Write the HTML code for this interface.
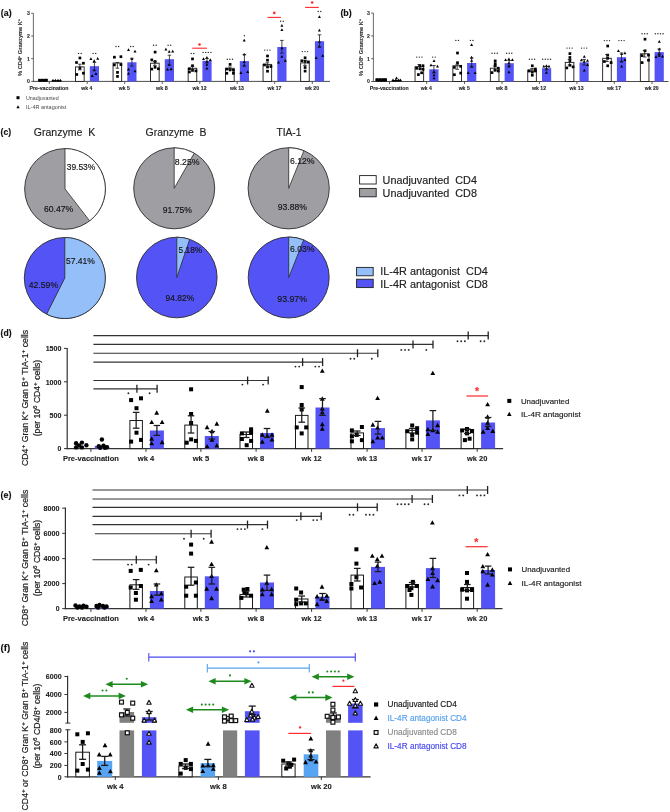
<!DOCTYPE html>
<html><head><meta charset="utf-8"><title>Figure</title>
<style>html,body{margin:0;padding:0;background:#fff;width:670px;height:812px;overflow:hidden}svg{display:block;will-change:transform}</style>
</head><body>
<svg width="670" height="812" viewBox="0 0 670 812" font-family='"Liberation Sans", sans-serif'>
<line x1="33.4" y1="13.3" x2="33.4" y2="81.9" stroke="#5a5a5a" stroke-width="0.9"/>
<line x1="33" y1="81.4" x2="330" y2="81.4" stroke="#3a3a3a" stroke-width="0.9"/>
<line x1="31.2" y1="81.4" x2="33.4" y2="81.4" stroke="#3a3a3a" stroke-width="0.8"/>
<text x="30" y="83.3" font-size="5.2" text-anchor="end" font-weight="bold" fill="#333" stroke="#333" stroke-width="0.12">0</text>
<line x1="31.2" y1="58.7" x2="33.4" y2="58.7" stroke="#3a3a3a" stroke-width="0.8"/>
<text x="30" y="60.6" font-size="5.2" text-anchor="end" font-weight="bold" fill="#333" stroke="#333" stroke-width="0.12">1</text>
<line x1="31.2" y1="36" x2="33.4" y2="36" stroke="#3a3a3a" stroke-width="0.8"/>
<text x="30" y="37.9" font-size="5.2" text-anchor="end" font-weight="bold" fill="#333" stroke="#333" stroke-width="0.12">2</text>
<line x1="31.2" y1="13.3" x2="33.4" y2="13.3" stroke="#3a3a3a" stroke-width="0.8"/>
<text x="30" y="15.2" font-size="5.2" text-anchor="end" font-weight="bold" fill="#333" stroke="#333" stroke-width="0.12">3</text>
<line x1="49.3" y1="81.4" x2="49.3" y2="84" stroke="#3a3a3a" stroke-width="0.8"/>
<text x="49" y="89.9" font-size="5.6" text-anchor="middle" font-weight="bold" fill="#262626" stroke="#262626" stroke-width="0.12" textLength="38.8" lengthAdjust="spacingAndGlyphs">Pre-vaccination</text>
<line x1="87.2" y1="81.4" x2="87.2" y2="84" stroke="#3a3a3a" stroke-width="0.8"/>
<text x="86.9" y="89.9" font-size="5.6" text-anchor="middle" font-weight="bold" fill="#262626" stroke="#262626" stroke-width="0.12" textLength="11.1" lengthAdjust="spacingAndGlyphs">wk 4</text>
<line x1="124.7" y1="81.4" x2="124.7" y2="84" stroke="#3a3a3a" stroke-width="0.8"/>
<text x="124.4" y="89.9" font-size="5.6" text-anchor="middle" font-weight="bold" fill="#262626" stroke="#262626" stroke-width="0.12" textLength="11.1" lengthAdjust="spacingAndGlyphs">wk 5</text>
<line x1="162.2" y1="81.4" x2="162.2" y2="84" stroke="#3a3a3a" stroke-width="0.8"/>
<text x="161.9" y="89.9" font-size="5.6" text-anchor="middle" font-weight="bold" fill="#262626" stroke="#262626" stroke-width="0.12" textLength="11.6" lengthAdjust="spacingAndGlyphs">wk 8</text>
<line x1="199.8" y1="81.4" x2="199.8" y2="84" stroke="#3a3a3a" stroke-width="0.8"/>
<text x="199.5" y="89.9" font-size="5.6" text-anchor="middle" font-weight="bold" fill="#262626" stroke="#262626" stroke-width="0.12" textLength="14" lengthAdjust="spacingAndGlyphs">wk 12</text>
<line x1="237.2" y1="81.4" x2="237.2" y2="84" stroke="#3a3a3a" stroke-width="0.8"/>
<text x="236.9" y="89.9" font-size="5.6" text-anchor="middle" font-weight="bold" fill="#262626" stroke="#262626" stroke-width="0.12" textLength="14" lengthAdjust="spacingAndGlyphs">wk 13</text>
<line x1="274.7" y1="81.4" x2="274.7" y2="84" stroke="#3a3a3a" stroke-width="0.8"/>
<text x="274.4" y="89.9" font-size="5.6" text-anchor="middle" font-weight="bold" fill="#262626" stroke="#262626" stroke-width="0.12" textLength="14" lengthAdjust="spacingAndGlyphs">wk 17</text>
<line x1="312.3" y1="81.4" x2="312.3" y2="84" stroke="#3a3a3a" stroke-width="0.8"/>
<text x="312" y="89.9" font-size="5.6" text-anchor="middle" font-weight="bold" fill="#262626" stroke="#262626" stroke-width="0.12" textLength="14" lengthAdjust="spacingAndGlyphs">wk 20</text>
<rect x="75.55" y="66.9" width="8.6" height="14.5" fill="#fff" stroke="#1a1a1a" stroke-width="0.9"/>
<rect x="89.8" y="66.2" width="9.2" height="15.2" fill="#5454f6"/>
<rect x="78.55" y="56.65" width="2.7" height="2.7" fill="#000"/>
<rect x="75.15" y="61.15" width="2.7" height="2.7" fill="#000"/>
<rect x="82.05" y="61.85" width="2.7" height="2.7" fill="#000"/>
<rect x="78.55" y="66.85" width="2.7" height="2.7" fill="#000"/>
<rect x="75.45" y="73.15" width="2.7" height="2.7" fill="#000"/>
<rect x="82.05" y="71.85" width="2.7" height="2.7" fill="#000"/>
<polygon points="90.9,57.14 89.4,59.9 92.4,59.9" fill="#000"/>
<polygon points="97.7,56.94 96.2,59.7 99.2,59.7" fill="#000"/>
<polygon points="94.2,59.24 92.7,62 95.7,62" fill="#000"/>
<polygon points="94.2,68.44 92.7,71.2 95.7,71.2" fill="#000"/>
<polygon points="95.9,72.34 94.4,75.1 97.4,75.1" fill="#000"/>
<polygon points="92.2,74.34 90.7,77.1 93.7,77.1" fill="#000"/>
<line x1="79.85" y1="64.2" x2="79.85" y2="69.8" stroke="#1a1a1a" stroke-width="0.8"/>
<line x1="78.05" y1="64.2" x2="81.65" y2="64.2" stroke="#1a1a1a" stroke-width="0.8"/>
<line x1="78.05" y1="69.8" x2="81.65" y2="69.8" stroke="#1a1a1a" stroke-width="0.8"/>
<line x1="94.4" y1="62.5" x2="94.4" y2="70.3" stroke="#1a1a1a" stroke-width="0.8"/>
<line x1="92.6" y1="62.5" x2="96.2" y2="62.5" stroke="#1a1a1a" stroke-width="0.8"/>
<line x1="92.6" y1="70.3" x2="96.2" y2="70.3" stroke="#1a1a1a" stroke-width="0.8"/>
<circle cx="78.55" cy="53.4" r="0.72" fill="#2a2a2a"/>
<circle cx="81.15" cy="53.4" r="0.72" fill="#2a2a2a"/>
<circle cx="93.1" cy="53.4" r="0.72" fill="#2a2a2a"/>
<circle cx="95.7" cy="53.4" r="0.72" fill="#2a2a2a"/>
<rect x="113.05" y="63" width="8.6" height="18.4" fill="#fff" stroke="#1a1a1a" stroke-width="0.9"/>
<rect x="127.3" y="62.3" width="9.2" height="19.1" fill="#5454f6"/>
<rect x="113.05" y="55.85" width="2.7" height="2.7" fill="#000"/>
<rect x="119.55" y="55.35" width="2.7" height="2.7" fill="#000"/>
<rect x="113.05" y="63.55" width="2.7" height="2.7" fill="#000"/>
<rect x="119.55" y="63.25" width="2.7" height="2.7" fill="#000"/>
<rect x="116.15" y="71.05" width="2.7" height="2.7" fill="#000"/>
<rect x="116.15" y="75.05" width="2.7" height="2.7" fill="#000"/>
<polygon points="128.5,48.24 127,51 130,51" fill="#000"/>
<polygon points="135,49.84 133.5,52.6 136.5,52.6" fill="#000"/>
<polygon points="131.9,57.34 130.4,60.1 133.4,60.1" fill="#000"/>
<polygon points="128.5,67.64 127,70.4 130,70.4" fill="#000"/>
<polygon points="135,69.44 133.5,72.2 136.5,72.2" fill="#000"/>
<polygon points="128.5,71.94 127,74.7 130,74.7" fill="#000"/>
<line x1="117.35" y1="62.5" x2="117.35" y2="68.2" stroke="#1a1a1a" stroke-width="0.8"/>
<line x1="115.55" y1="62.5" x2="119.15" y2="62.5" stroke="#1a1a1a" stroke-width="0.8"/>
<line x1="115.55" y1="68.2" x2="119.15" y2="68.2" stroke="#1a1a1a" stroke-width="0.8"/>
<line x1="131.9" y1="58.3" x2="131.9" y2="66.1" stroke="#1a1a1a" stroke-width="0.8"/>
<line x1="130.1" y1="58.3" x2="133.7" y2="58.3" stroke="#1a1a1a" stroke-width="0.8"/>
<line x1="130.1" y1="66.1" x2="133.7" y2="66.1" stroke="#1a1a1a" stroke-width="0.8"/>
<circle cx="116.05" cy="46.5" r="0.72" fill="#2a2a2a"/>
<circle cx="118.65" cy="46.5" r="0.72" fill="#2a2a2a"/>
<circle cx="130.6" cy="46.5" r="0.72" fill="#2a2a2a"/>
<circle cx="133.2" cy="46.5" r="0.72" fill="#2a2a2a"/>
<rect x="150.55" y="63.2" width="8.6" height="18.2" fill="#fff" stroke="#1a1a1a" stroke-width="0.9"/>
<rect x="164.8" y="59.2" width="9.2" height="22.2" fill="#5454f6"/>
<rect x="153.75" y="50.75" width="2.7" height="2.7" fill="#000"/>
<rect x="150.45" y="58.55" width="2.7" height="2.7" fill="#000"/>
<rect x="153.75" y="60.15" width="2.7" height="2.7" fill="#000"/>
<rect x="153.75" y="65.95" width="2.7" height="2.7" fill="#000"/>
<rect x="150.45" y="67.75" width="2.7" height="2.7" fill="#000"/>
<rect x="157.05" y="67.45" width="2.7" height="2.7" fill="#000"/>
<polygon points="165.9,47.64 164.4,50.4 167.4,50.4" fill="#000"/>
<polygon points="169.2,49.94 167.7,52.7 170.7,52.7" fill="#000"/>
<polygon points="172.7,49.74 171.2,52.5 174.2,52.5" fill="#000"/>
<polygon points="169.2,62.94 167.7,65.7 170.7,65.7" fill="#000"/>
<polygon points="167.5,67.64 166,70.4 169,70.4" fill="#000"/>
<polygon points="171.1,67.44 169.6,70.2 172.6,70.2" fill="#000"/>
<line x1="154.85" y1="61.5" x2="154.85" y2="65.4" stroke="#1a1a1a" stroke-width="0.8"/>
<line x1="153.05" y1="61.5" x2="156.65" y2="61.5" stroke="#1a1a1a" stroke-width="0.8"/>
<line x1="153.05" y1="65.4" x2="156.65" y2="65.4" stroke="#1a1a1a" stroke-width="0.8"/>
<line x1="169.4" y1="55.2" x2="169.4" y2="65.2" stroke="#1a1a1a" stroke-width="0.8"/>
<line x1="167.6" y1="55.2" x2="171.2" y2="55.2" stroke="#1a1a1a" stroke-width="0.8"/>
<line x1="167.6" y1="65.2" x2="171.2" y2="65.2" stroke="#1a1a1a" stroke-width="0.8"/>
<circle cx="153.55" cy="45.3" r="0.72" fill="#2a2a2a"/>
<circle cx="156.15" cy="45.3" r="0.72" fill="#2a2a2a"/>
<circle cx="168.1" cy="45.3" r="0.72" fill="#2a2a2a"/>
<circle cx="170.7" cy="45.3" r="0.72" fill="#2a2a2a"/>
<rect x="188.15" y="68.3" width="8.6" height="13.1" fill="#fff" stroke="#1a1a1a" stroke-width="0.9"/>
<rect x="202.4" y="60.8" width="9.2" height="20.6" fill="#5454f6"/>
<rect x="191.15" y="57.55" width="2.7" height="2.7" fill="#000"/>
<rect x="191.15" y="64.35" width="2.7" height="2.7" fill="#000"/>
<rect x="188.05" y="67.45" width="2.7" height="2.7" fill="#000"/>
<rect x="188.05" y="70.65" width="2.7" height="2.7" fill="#000"/>
<rect x="194.55" y="69.55" width="2.7" height="2.7" fill="#000"/>
<rect x="191.15" y="69.05" width="2.7" height="2.7" fill="#000"/>
<polygon points="203.5,57.24 202,60 205,60" fill="#000"/>
<polygon points="206.9,55.94 205.4,58.7 208.4,58.7" fill="#000"/>
<polygon points="210.3,58.24 208.8,61 211.8,61" fill="#000"/>
<polygon points="206.9,60.14 205.4,62.9 208.4,62.9" fill="#000"/>
<polygon points="206.9,62.94 205.4,65.7 208.4,65.7" fill="#000"/>
<polygon points="206.9,66.84 205.4,69.6 208.4,69.6" fill="#000"/>
<line x1="192.45" y1="66.5" x2="192.45" y2="70" stroke="#1a1a1a" stroke-width="0.8"/>
<line x1="190.65" y1="66.5" x2="194.25" y2="66.5" stroke="#1a1a1a" stroke-width="0.8"/>
<line x1="190.65" y1="70" x2="194.25" y2="70" stroke="#1a1a1a" stroke-width="0.8"/>
<line x1="207" y1="58.5" x2="207" y2="63" stroke="#1a1a1a" stroke-width="0.8"/>
<line x1="205.2" y1="58.5" x2="208.8" y2="58.5" stroke="#1a1a1a" stroke-width="0.8"/>
<line x1="205.2" y1="63" x2="208.8" y2="63" stroke="#1a1a1a" stroke-width="0.8"/>
<circle cx="191.15" cy="53.5" r="0.72" fill="#2a2a2a"/>
<circle cx="193.75" cy="53.5" r="0.72" fill="#2a2a2a"/>
<circle cx="203.1" cy="52.4" r="0.72" fill="#2a2a2a"/>
<circle cx="205.7" cy="52.4" r="0.72" fill="#2a2a2a"/>
<circle cx="208.3" cy="52.4" r="0.72" fill="#2a2a2a"/>
<circle cx="210.9" cy="52.4" r="0.72" fill="#2a2a2a"/>
<rect x="225.55" y="68.3" width="8.6" height="13.1" fill="#fff" stroke="#1a1a1a" stroke-width="0.9"/>
<rect x="239.8" y="61.1" width="9.2" height="20.3" fill="#5454f6"/>
<rect x="228.75" y="63.05" width="2.7" height="2.7" fill="#000"/>
<rect x="225.45" y="67.75" width="2.7" height="2.7" fill="#000"/>
<rect x="228.75" y="68.55" width="2.7" height="2.7" fill="#000"/>
<rect x="232.05" y="68.85" width="2.7" height="2.7" fill="#000"/>
<rect x="225.45" y="71.95" width="2.7" height="2.7" fill="#000"/>
<rect x="232.05" y="71.95" width="2.7" height="2.7" fill="#000"/>
<polygon points="244.2,38.74 242.7,41.5 245.7,41.5" fill="#000"/>
<polygon points="244.2,52.84 242.7,55.6 245.7,55.6" fill="#000"/>
<polygon points="244.2,60.14 242.7,62.9 245.7,62.9" fill="#000"/>
<polygon points="244.2,63.74 242.7,66.5 245.7,66.5" fill="#000"/>
<polygon points="240.9,71.14 239.4,73.9 242.4,73.9" fill="#000"/>
<polygon points="247.7,70.34 246.2,73.1 249.2,73.1" fill="#000"/>
<line x1="229.85" y1="67" x2="229.85" y2="69.6" stroke="#1a1a1a" stroke-width="0.8"/>
<line x1="228.05" y1="67" x2="231.65" y2="67" stroke="#1a1a1a" stroke-width="0.8"/>
<line x1="228.05" y1="69.6" x2="231.65" y2="69.6" stroke="#1a1a1a" stroke-width="0.8"/>
<line x1="244.4" y1="54.5" x2="244.4" y2="66" stroke="#1a1a1a" stroke-width="0.8"/>
<line x1="242.6" y1="54.5" x2="246.2" y2="54.5" stroke="#1a1a1a" stroke-width="0.8"/>
<line x1="242.6" y1="66" x2="246.2" y2="66" stroke="#1a1a1a" stroke-width="0.8"/>
<circle cx="227.25" cy="59.2" r="0.72" fill="#2a2a2a"/>
<circle cx="229.85" cy="59.2" r="0.72" fill="#2a2a2a"/>
<circle cx="232.45" cy="59.2" r="0.72" fill="#2a2a2a"/>
<circle cx="244.4" cy="35.7" r="0.72" fill="#2a2a2a"/>
<rect x="263.05" y="64.4" width="8.6" height="17" fill="#fff" stroke="#1a1a1a" stroke-width="0.9"/>
<rect x="277.3" y="47" width="9.2" height="34.4" fill="#5454f6"/>
<rect x="266.15" y="54.65" width="2.7" height="2.7" fill="#000"/>
<rect x="266.15" y="58.85" width="2.7" height="2.7" fill="#000"/>
<rect x="263.05" y="63.55" width="2.7" height="2.7" fill="#000"/>
<rect x="269.55" y="65.15" width="2.7" height="2.7" fill="#000"/>
<rect x="266.15" y="65.65" width="2.7" height="2.7" fill="#000"/>
<rect x="266.15" y="69.85" width="2.7" height="2.7" fill="#000"/>
<polygon points="281.9,24.04 280.4,26.8 283.4,26.8" fill="#000"/>
<polygon points="281.9,28.24 280.4,31 283.4,31" fill="#000"/>
<polygon points="281.9,46.54 280.4,49.3 283.4,49.3" fill="#000"/>
<polygon points="281.9,54.94 280.4,57.7 283.4,57.7" fill="#000"/>
<polygon points="278.5,60.64 277,63.4 280,63.4" fill="#000"/>
<polygon points="285.3,59.04 283.8,61.8 286.8,61.8" fill="#000"/>
<line x1="267.35" y1="62.8" x2="267.35" y2="66" stroke="#1a1a1a" stroke-width="0.8"/>
<line x1="265.55" y1="62.8" x2="269.15" y2="62.8" stroke="#1a1a1a" stroke-width="0.8"/>
<line x1="265.55" y1="66" x2="269.15" y2="66" stroke="#1a1a1a" stroke-width="0.8"/>
<line x1="281.9" y1="40.4" x2="281.9" y2="53.2" stroke="#1a1a1a" stroke-width="0.8"/>
<line x1="280.1" y1="40.4" x2="283.7" y2="40.4" stroke="#1a1a1a" stroke-width="0.8"/>
<line x1="280.1" y1="53.2" x2="283.7" y2="53.2" stroke="#1a1a1a" stroke-width="0.8"/>
<circle cx="264.75" cy="50.1" r="0.72" fill="#2a2a2a"/>
<circle cx="267.35" cy="50.1" r="0.72" fill="#2a2a2a"/>
<circle cx="269.95" cy="50.1" r="0.72" fill="#2a2a2a"/>
<circle cx="280.6" cy="21.3" r="0.72" fill="#2a2a2a"/>
<circle cx="283.2" cy="21.3" r="0.72" fill="#2a2a2a"/>
<rect x="300.65" y="62.9" width="8.6" height="18.5" fill="#fff" stroke="#1a1a1a" stroke-width="0.9"/>
<rect x="314.9" y="41.2" width="9.2" height="40.2" fill="#5454f6"/>
<rect x="303.75" y="56.45" width="2.7" height="2.7" fill="#000"/>
<rect x="300.45" y="59.45" width="2.7" height="2.7" fill="#000"/>
<rect x="303.75" y="59.95" width="2.7" height="2.7" fill="#000"/>
<rect x="307.05" y="60.55" width="2.7" height="2.7" fill="#000"/>
<rect x="303.75" y="66.15" width="2.7" height="2.7" fill="#000"/>
<rect x="303.75" y="69.75" width="2.7" height="2.7" fill="#000"/>
<polygon points="319.4,15.24 317.9,18 320.9,18" fill="#000"/>
<polygon points="319.4,28.84 317.9,31.6 320.9,31.6" fill="#000"/>
<polygon points="319.4,40.04 317.9,42.8 320.9,42.8" fill="#000"/>
<polygon points="319.4,44.84 317.9,47.6 320.9,47.6" fill="#000"/>
<polygon points="316.1,56.14 314.6,58.9 317.6,58.9" fill="#000"/>
<polygon points="322.7,54.04 321.2,56.8 324.2,56.8" fill="#000"/>
<line x1="304.95" y1="60.3" x2="304.95" y2="65.4" stroke="#1a1a1a" stroke-width="0.8"/>
<line x1="303.15" y1="60.3" x2="306.75" y2="60.3" stroke="#1a1a1a" stroke-width="0.8"/>
<line x1="303.15" y1="65.4" x2="306.75" y2="65.4" stroke="#1a1a1a" stroke-width="0.8"/>
<line x1="319.5" y1="34.8" x2="319.5" y2="47.2" stroke="#1a1a1a" stroke-width="0.8"/>
<line x1="317.7" y1="34.8" x2="321.3" y2="34.8" stroke="#1a1a1a" stroke-width="0.8"/>
<line x1="317.7" y1="47.2" x2="321.3" y2="47.2" stroke="#1a1a1a" stroke-width="0.8"/>
<circle cx="302.35" cy="51.6" r="0.72" fill="#2a2a2a"/>
<circle cx="304.95" cy="51.6" r="0.72" fill="#2a2a2a"/>
<circle cx="307.55" cy="51.6" r="0.72" fill="#2a2a2a"/>
<circle cx="318.2" cy="11.5" r="0.72" fill="#2a2a2a"/>
<circle cx="320.8" cy="11.5" r="0.72" fill="#2a2a2a"/>
<text x="22.2" y="47.4" font-size="5.9" text-anchor="middle" font-weight="bold" fill="#333" stroke="#333" stroke-width="0.12" textLength="57" lengthAdjust="spacingAndGlyphs" transform="rotate(-90 22.2 47.4)">% CD4<tspan dy="-1.8" font-size="3.8">+</tspan><tspan dy="1.8"> </tspan> Granzyme K<tspan dy="-1.8" font-size="3.8">+</tspan></text>
<text x="0.8" y="16.4" font-size="9" font-weight="bold" fill="#111" stroke="#111" stroke-width="0.12" textLength="10.8" lengthAdjust="spacingAndGlyphs">(a)</text>
<rect x="38.4" y="79.2" width="9" height="2.6" fill="#000"/>
<rect x="38.2" y="78.8" width="2.4" height="2.4" fill="#000"/>
<rect x="41" y="78.8" width="2.4" height="2.4" fill="#000"/>
<rect x="43.6" y="78.8" width="2.4" height="2.4" fill="#000"/>
<rect x="45.4" y="78.8" width="2.4" height="2.4" fill="#000"/>
<polygon points="53,78.75 51.6,81.33 54.4,81.33" fill="#000"/>
<polygon points="55.5,78.75 54.1,81.33 56.9,81.33" fill="#000"/>
<polygon points="58,78.75 56.6,81.33 59.4,81.33" fill="#000"/>
<polygon points="60.3,78.75 58.9,81.33 61.7,81.33" fill="#000"/>
<rect x="51.8" y="80.3" width="9.6" height="1.3" fill="#000"/>
<line x1="192.2" y1="48.2" x2="206.9" y2="48.2" stroke="#ff2a2a" stroke-width="1.1"/>
<circle cx="199.5" cy="44.5" r="1.3" fill="#ff2a2a"/>
<line x1="267.5" y1="17.4" x2="280.9" y2="17.4" stroke="#ff2a2a" stroke-width="1.1"/>
<circle cx="274.3" cy="12.9" r="1.3" fill="#ff2a2a"/>
<line x1="305.1" y1="7.4" x2="318.8" y2="7.4" stroke="#ff2a2a" stroke-width="1.1"/>
<circle cx="312.2" cy="2.5" r="1.3" fill="#ff2a2a"/>
<rect x="16.5" y="96.2" width="3" height="3" fill="#000"/>
<text x="26" y="99.9" font-size="5.7" fill="#4a4a4a" textLength="32.7" lengthAdjust="spacingAndGlyphs">Unadjuvanted</text>
<polygon points="18,105.18 16.35,108.21 19.65,108.21" fill="#000"/>
<text x="26" y="109.1" font-size="5.7" fill="#4a4a4a" textLength="40.3" lengthAdjust="spacingAndGlyphs">IL-4R antagonist</text>
<line x1="373.4" y1="13.1" x2="373.4" y2="82" stroke="#5a5a5a" stroke-width="0.9"/>
<line x1="373" y1="81.5" x2="668.5" y2="81.5" stroke="#3a3a3a" stroke-width="0.9"/>
<line x1="371.2" y1="81.5" x2="373.4" y2="81.5" stroke="#3a3a3a" stroke-width="0.8"/>
<text x="370" y="83.4" font-size="5.2" text-anchor="end" font-weight="bold" fill="#333" stroke="#333" stroke-width="0.12">0</text>
<line x1="371.2" y1="58.7" x2="373.4" y2="58.7" stroke="#3a3a3a" stroke-width="0.8"/>
<text x="370" y="60.6" font-size="5.2" text-anchor="end" font-weight="bold" fill="#333" stroke="#333" stroke-width="0.12">1</text>
<line x1="371.2" y1="35.9" x2="373.4" y2="35.9" stroke="#3a3a3a" stroke-width="0.8"/>
<text x="370" y="37.8" font-size="5.2" text-anchor="end" font-weight="bold" fill="#333" stroke="#333" stroke-width="0.12">2</text>
<line x1="371.2" y1="13.1" x2="373.4" y2="13.1" stroke="#3a3a3a" stroke-width="0.8"/>
<text x="370" y="15" font-size="5.2" text-anchor="end" font-weight="bold" fill="#333" stroke="#333" stroke-width="0.12">3</text>
<line x1="389.5" y1="81.5" x2="389.5" y2="84.1" stroke="#3a3a3a" stroke-width="0.8"/>
<text x="389.2" y="90" font-size="5.6" text-anchor="middle" font-weight="bold" fill="#262626" stroke="#262626" stroke-width="0.12" textLength="38.8" lengthAdjust="spacingAndGlyphs">Pre-vaccination</text>
<line x1="426.7" y1="81.5" x2="426.7" y2="84.1" stroke="#3a3a3a" stroke-width="0.8"/>
<text x="426.4" y="90" font-size="5.6" text-anchor="middle" font-weight="bold" fill="#262626" stroke="#262626" stroke-width="0.12" textLength="11.1" lengthAdjust="spacingAndGlyphs">wk 4</text>
<line x1="464.5" y1="81.5" x2="464.5" y2="84.1" stroke="#3a3a3a" stroke-width="0.8"/>
<text x="464.2" y="90" font-size="5.6" text-anchor="middle" font-weight="bold" fill="#262626" stroke="#262626" stroke-width="0.12" textLength="11.1" lengthAdjust="spacingAndGlyphs">wk 5</text>
<line x1="502" y1="81.5" x2="502" y2="84.1" stroke="#3a3a3a" stroke-width="0.8"/>
<text x="501.7" y="90" font-size="5.6" text-anchor="middle" font-weight="bold" fill="#262626" stroke="#262626" stroke-width="0.12" textLength="11.6" lengthAdjust="spacingAndGlyphs">wk 8</text>
<line x1="539.4" y1="81.5" x2="539.4" y2="84.1" stroke="#3a3a3a" stroke-width="0.8"/>
<text x="539.1" y="90" font-size="5.6" text-anchor="middle" font-weight="bold" fill="#262626" stroke="#262626" stroke-width="0.12" textLength="14" lengthAdjust="spacingAndGlyphs">wk 12</text>
<line x1="576.9" y1="81.5" x2="576.9" y2="84.1" stroke="#3a3a3a" stroke-width="0.8"/>
<text x="576.6" y="90" font-size="5.6" text-anchor="middle" font-weight="bold" fill="#262626" stroke="#262626" stroke-width="0.12" textLength="14" lengthAdjust="spacingAndGlyphs">wk 13</text>
<line x1="614.3" y1="81.5" x2="614.3" y2="84.1" stroke="#3a3a3a" stroke-width="0.8"/>
<text x="614" y="90" font-size="5.6" text-anchor="middle" font-weight="bold" fill="#262626" stroke="#262626" stroke-width="0.12" textLength="14" lengthAdjust="spacingAndGlyphs">wk 17</text>
<line x1="652" y1="81.5" x2="652" y2="84.1" stroke="#3a3a3a" stroke-width="0.8"/>
<text x="651.7" y="90" font-size="5.6" text-anchor="middle" font-weight="bold" fill="#262626" stroke="#262626" stroke-width="0.12" textLength="14" lengthAdjust="spacingAndGlyphs">wk 20</text>
<rect x="415.05" y="66.7" width="8.6" height="14.8" fill="#fff" stroke="#1a1a1a" stroke-width="0.9"/>
<rect x="429.3" y="69.3" width="9.2" height="12.2" fill="#5454f6"/>
<rect x="415.25" y="66.95" width="2.7" height="2.7" fill="#000"/>
<rect x="418.35" y="64.35" width="2.7" height="2.7" fill="#000"/>
<rect x="421.65" y="64.35" width="2.7" height="2.7" fill="#000"/>
<rect x="418.85" y="67.45" width="2.7" height="2.7" fill="#000"/>
<rect x="421.65" y="67.95" width="2.7" height="2.7" fill="#000"/>
<rect x="420.25" y="71.45" width="2.7" height="2.7" fill="#000"/>
<rect x="417.05" y="73.25" width="2.7" height="2.7" fill="#000"/>
<polygon points="434,59.34 432.5,62.1 435.5,62.1" fill="#000"/>
<polygon points="431,63.44 429.5,66.2 432.5,66.2" fill="#000"/>
<polygon points="437.5,64.84 436,67.6 439,67.6" fill="#000"/>
<polygon points="434,70.24 432.5,73 435.5,73" fill="#000"/>
<polygon points="434,73.44 432.5,76.2 435.5,76.2" fill="#000"/>
<polygon points="434,76.54 432.5,79.3 435.5,79.3" fill="#000"/>
<line x1="419.35" y1="64.5" x2="419.35" y2="69" stroke="#1a1a1a" stroke-width="0.8"/>
<line x1="417.55" y1="64.5" x2="421.15" y2="64.5" stroke="#1a1a1a" stroke-width="0.8"/>
<line x1="417.55" y1="69" x2="421.15" y2="69" stroke="#1a1a1a" stroke-width="0.8"/>
<line x1="433.9" y1="65.5" x2="433.9" y2="73" stroke="#1a1a1a" stroke-width="0.8"/>
<line x1="432.1" y1="65.5" x2="435.7" y2="65.5" stroke="#1a1a1a" stroke-width="0.8"/>
<line x1="432.1" y1="73" x2="435.7" y2="73" stroke="#1a1a1a" stroke-width="0.8"/>
<circle cx="416.75" cy="57.1" r="0.72" fill="#2a2a2a"/>
<circle cx="419.35" cy="57.1" r="0.72" fill="#2a2a2a"/>
<circle cx="421.95" cy="57.1" r="0.72" fill="#2a2a2a"/>
<circle cx="432.6" cy="57.1" r="0.72" fill="#2a2a2a"/>
<circle cx="435.2" cy="57.1" r="0.72" fill="#2a2a2a"/>
<rect x="452.85" y="65.8" width="8.6" height="15.7" fill="#fff" stroke="#1a1a1a" stroke-width="0.9"/>
<rect x="467.1" y="63" width="9.2" height="18.5" fill="#5454f6"/>
<rect x="456.15" y="51.65" width="2.7" height="2.7" fill="#000"/>
<rect x="456.15" y="61.35" width="2.7" height="2.7" fill="#000"/>
<rect x="453.05" y="66.05" width="2.7" height="2.7" fill="#000"/>
<rect x="459.35" y="64.95" width="2.7" height="2.7" fill="#000"/>
<rect x="453.05" y="73.35" width="2.7" height="2.7" fill="#000"/>
<rect x="459.35" y="71.75" width="2.7" height="2.7" fill="#000"/>
<polygon points="471.6,43.24 470.1,46 473.1,46" fill="#000"/>
<polygon points="471.6,55.84 470.1,58.6 473.1,58.6" fill="#000"/>
<polygon points="471.6,58.94 470.1,61.7 473.1,61.7" fill="#000"/>
<polygon points="471.6,64.64 470.1,67.4 473.1,67.4" fill="#000"/>
<polygon points="468.2,71.14 466.7,73.9 469.7,73.9" fill="#000"/>
<polygon points="475.1,71.14 473.6,73.9 476.6,73.9" fill="#000"/>
<line x1="457.15" y1="64.3" x2="457.15" y2="69.3" stroke="#1a1a1a" stroke-width="0.8"/>
<line x1="455.35" y1="64.3" x2="458.95" y2="64.3" stroke="#1a1a1a" stroke-width="0.8"/>
<line x1="455.35" y1="69.3" x2="458.95" y2="69.3" stroke="#1a1a1a" stroke-width="0.8"/>
<line x1="471.7" y1="58" x2="471.7" y2="66.9" stroke="#1a1a1a" stroke-width="0.8"/>
<line x1="469.9" y1="58" x2="473.5" y2="58" stroke="#1a1a1a" stroke-width="0.8"/>
<line x1="469.9" y1="66.9" x2="473.5" y2="66.9" stroke="#1a1a1a" stroke-width="0.8"/>
<circle cx="455.85" cy="40.4" r="0.72" fill="#2a2a2a"/>
<circle cx="458.45" cy="40.4" r="0.72" fill="#2a2a2a"/>
<circle cx="470.4" cy="40.4" r="0.72" fill="#2a2a2a"/>
<circle cx="473" cy="40.4" r="0.72" fill="#2a2a2a"/>
<rect x="490.35" y="68.2" width="8.6" height="13.3" fill="#fff" stroke="#1a1a1a" stroke-width="0.9"/>
<rect x="504.6" y="63.2" width="9.2" height="18.3" fill="#5454f6"/>
<rect x="493.85" y="59.55" width="2.7" height="2.7" fill="#000"/>
<rect x="493.85" y="62.35" width="2.7" height="2.7" fill="#000"/>
<rect x="493.85" y="64.45" width="2.7" height="2.7" fill="#000"/>
<rect x="496.95" y="66.85" width="2.7" height="2.7" fill="#000"/>
<rect x="493.85" y="68.95" width="2.7" height="2.7" fill="#000"/>
<rect x="490.65" y="71.25" width="2.7" height="2.7" fill="#000"/>
<rect x="496.95" y="69.65" width="2.7" height="2.7" fill="#000"/>
<polygon points="505.6,58.24 504.1,61 507.1,61" fill="#000"/>
<polygon points="508.9,57.54 507.4,60.3 510.4,60.3" fill="#000"/>
<polygon points="512.4,58.24 510.9,61 513.9,61" fill="#000"/>
<polygon points="508.9,61.54 507.4,64.3 510.4,64.3" fill="#000"/>
<polygon points="508.9,64.64 507.4,67.4 510.4,67.4" fill="#000"/>
<polygon points="508.9,70.44 507.4,73.2 510.4,73.2" fill="#000"/>
<line x1="494.65" y1="66" x2="494.65" y2="70" stroke="#1a1a1a" stroke-width="0.8"/>
<line x1="492.85" y1="66" x2="496.45" y2="66" stroke="#1a1a1a" stroke-width="0.8"/>
<line x1="492.85" y1="70" x2="496.45" y2="70" stroke="#1a1a1a" stroke-width="0.8"/>
<line x1="509.2" y1="60.5" x2="509.2" y2="66" stroke="#1a1a1a" stroke-width="0.8"/>
<line x1="507.4" y1="60.5" x2="511" y2="60.5" stroke="#1a1a1a" stroke-width="0.8"/>
<line x1="507.4" y1="66" x2="511" y2="66" stroke="#1a1a1a" stroke-width="0.8"/>
<circle cx="492.05" cy="53.3" r="0.72" fill="#2a2a2a"/>
<circle cx="494.65" cy="53.3" r="0.72" fill="#2a2a2a"/>
<circle cx="497.25" cy="53.3" r="0.72" fill="#2a2a2a"/>
<circle cx="506.6" cy="53.3" r="0.72" fill="#2a2a2a"/>
<circle cx="509.2" cy="53.3" r="0.72" fill="#2a2a2a"/>
<circle cx="511.8" cy="53.3" r="0.72" fill="#2a2a2a"/>
<rect x="527.75" y="70" width="8.6" height="11.5" fill="#fff" stroke="#1a1a1a" stroke-width="0.9"/>
<rect x="542" y="68.2" width="9.2" height="13.3" fill="#5454f6"/>
<rect x="530.95" y="64.45" width="2.7" height="2.7" fill="#000"/>
<rect x="527.85" y="69.65" width="2.7" height="2.7" fill="#000"/>
<rect x="534.05" y="67.65" width="2.7" height="2.7" fill="#000"/>
<rect x="530.95" y="70.75" width="2.7" height="2.7" fill="#000"/>
<rect x="530.95" y="73.85" width="2.7" height="2.7" fill="#000"/>
<rect x="534.05" y="69.65" width="2.7" height="2.7" fill="#000"/>
<polygon points="543.8,64.64 542.3,67.4 545.3,67.4" fill="#000"/>
<polygon points="546.4,64.14 544.9,66.9 547.9,66.9" fill="#000"/>
<polygon points="549,64.64 547.5,67.4 550.5,67.4" fill="#000"/>
<polygon points="546.4,66.74 544.9,69.5 547.9,69.5" fill="#000"/>
<polygon points="546.4,70.94 544.9,73.7 547.9,73.7" fill="#000"/>
<line x1="532.05" y1="68.5" x2="532.05" y2="71.5" stroke="#1a1a1a" stroke-width="0.8"/>
<line x1="530.25" y1="68.5" x2="533.85" y2="68.5" stroke="#1a1a1a" stroke-width="0.8"/>
<line x1="530.25" y1="71.5" x2="533.85" y2="71.5" stroke="#1a1a1a" stroke-width="0.8"/>
<line x1="546.6" y1="66.5" x2="546.6" y2="70" stroke="#1a1a1a" stroke-width="0.8"/>
<line x1="544.8" y1="66.5" x2="548.4" y2="66.5" stroke="#1a1a1a" stroke-width="0.8"/>
<line x1="544.8" y1="70" x2="548.4" y2="70" stroke="#1a1a1a" stroke-width="0.8"/>
<circle cx="529.45" cy="59.2" r="0.72" fill="#2a2a2a"/>
<circle cx="532.05" cy="59.2" r="0.72" fill="#2a2a2a"/>
<circle cx="534.65" cy="59.2" r="0.72" fill="#2a2a2a"/>
<circle cx="542.7" cy="59.2" r="0.72" fill="#2a2a2a"/>
<circle cx="545.3" cy="59.2" r="0.72" fill="#2a2a2a"/>
<circle cx="547.9" cy="59.2" r="0.72" fill="#2a2a2a"/>
<circle cx="550.5" cy="59.2" r="0.72" fill="#2a2a2a"/>
<rect x="565.25" y="62.4" width="8.6" height="19.1" fill="#fff" stroke="#1a1a1a" stroke-width="0.9"/>
<rect x="579.5" y="62.4" width="9.2" height="19.1" fill="#5454f6"/>
<rect x="568.55" y="52.25" width="2.7" height="2.7" fill="#000"/>
<rect x="568.55" y="56.15" width="2.7" height="2.7" fill="#000"/>
<rect x="568.55" y="59.25" width="2.7" height="2.7" fill="#000"/>
<rect x="568.55" y="63.95" width="2.7" height="2.7" fill="#000"/>
<rect x="565.45" y="66.55" width="2.7" height="2.7" fill="#000"/>
<rect x="571.75" y="65.55" width="2.7" height="2.7" fill="#000"/>
<polygon points="584.3,55.04 582.8,57.8 585.8,57.8" fill="#000"/>
<polygon points="581.4,58.44 579.9,61.2 582.9,61.2" fill="#000"/>
<polygon points="587.5,58.94 586,61.7 589,61.7" fill="#000"/>
<polygon points="584.3,59.94 582.8,62.7 585.8,62.7" fill="#000"/>
<polygon points="587.5,63.14 586,65.9 589,65.9" fill="#000"/>
<polygon points="584.3,68.84 582.8,71.6 585.8,71.6" fill="#000"/>
<line x1="569.55" y1="59.5" x2="569.55" y2="65" stroke="#1a1a1a" stroke-width="0.8"/>
<line x1="567.75" y1="59.5" x2="571.35" y2="59.5" stroke="#1a1a1a" stroke-width="0.8"/>
<line x1="567.75" y1="65" x2="571.35" y2="65" stroke="#1a1a1a" stroke-width="0.8"/>
<line x1="584.1" y1="59.5" x2="584.1" y2="65" stroke="#1a1a1a" stroke-width="0.8"/>
<line x1="582.3" y1="59.5" x2="585.9" y2="59.5" stroke="#1a1a1a" stroke-width="0.8"/>
<line x1="582.3" y1="65" x2="585.9" y2="65" stroke="#1a1a1a" stroke-width="0.8"/>
<circle cx="566.95" cy="48.1" r="0.72" fill="#2a2a2a"/>
<circle cx="569.55" cy="48.1" r="0.72" fill="#2a2a2a"/>
<circle cx="572.15" cy="48.1" r="0.72" fill="#2a2a2a"/>
<circle cx="581.5" cy="48.1" r="0.72" fill="#2a2a2a"/>
<circle cx="584.1" cy="48.1" r="0.72" fill="#2a2a2a"/>
<circle cx="586.7" cy="48.1" r="0.72" fill="#2a2a2a"/>
<rect x="602.65" y="58.3" width="8.6" height="23.2" fill="#fff" stroke="#1a1a1a" stroke-width="0.9"/>
<rect x="616.9" y="57.2" width="9.2" height="24.3" fill="#5454f6"/>
<rect x="606.35" y="44.65" width="2.7" height="2.7" fill="#000"/>
<rect x="606.35" y="53.75" width="2.7" height="2.7" fill="#000"/>
<rect x="606.35" y="56.95" width="2.7" height="2.7" fill="#000"/>
<rect x="603.05" y="60.15" width="2.7" height="2.7" fill="#000"/>
<rect x="609.75" y="61.25" width="2.7" height="2.7" fill="#000"/>
<rect x="606.35" y="64.45" width="2.7" height="2.7" fill="#000"/>
<polygon points="618.4,49.14 616.9,51.9 619.9,51.9" fill="#000"/>
<polygon points="624.9,51.54 623.4,54.3 626.4,54.3" fill="#000"/>
<polygon points="621.6,52.34 620.1,55.1 623.1,55.1" fill="#000"/>
<polygon points="624.9,58.24 623.4,61 626.4,61" fill="#000"/>
<polygon points="621.6,59.84 620.1,62.6 623.1,62.6" fill="#000"/>
<polygon points="621.6,64.74 620.1,67.5 623.1,67.5" fill="#000"/>
<line x1="606.95" y1="54.5" x2="606.95" y2="61.5" stroke="#1a1a1a" stroke-width="0.8"/>
<line x1="605.15" y1="54.5" x2="608.75" y2="54.5" stroke="#1a1a1a" stroke-width="0.8"/>
<line x1="605.15" y1="61.5" x2="608.75" y2="61.5" stroke="#1a1a1a" stroke-width="0.8"/>
<line x1="621.5" y1="53" x2="621.5" y2="61.5" stroke="#1a1a1a" stroke-width="0.8"/>
<line x1="619.7" y1="53" x2="623.3" y2="53" stroke="#1a1a1a" stroke-width="0.8"/>
<line x1="619.7" y1="61.5" x2="623.3" y2="61.5" stroke="#1a1a1a" stroke-width="0.8"/>
<circle cx="604.35" cy="40.6" r="0.72" fill="#2a2a2a"/>
<circle cx="606.95" cy="40.6" r="0.72" fill="#2a2a2a"/>
<circle cx="609.55" cy="40.6" r="0.72" fill="#2a2a2a"/>
<circle cx="618.9" cy="40.6" r="0.72" fill="#2a2a2a"/>
<circle cx="621.5" cy="40.6" r="0.72" fill="#2a2a2a"/>
<circle cx="624.1" cy="40.6" r="0.72" fill="#2a2a2a"/>
<rect x="640.35" y="53.8" width="8.6" height="27.7" fill="#fff" stroke="#1a1a1a" stroke-width="0.9"/>
<rect x="654.6" y="52.1" width="9.2" height="29.4" fill="#5454f6"/>
<rect x="643.65" y="37.85" width="2.7" height="2.7" fill="#000"/>
<rect x="643.65" y="49.45" width="2.7" height="2.7" fill="#000"/>
<rect x="640.75" y="54.25" width="2.7" height="2.7" fill="#000"/>
<rect x="647.15" y="53.75" width="2.7" height="2.7" fill="#000"/>
<rect x="647.15" y="58.85" width="2.7" height="2.7" fill="#000"/>
<rect x="640.75" y="61.25" width="2.7" height="2.7" fill="#000"/>
<polygon points="659.3,40.04 657.8,42.8 660.8,42.8" fill="#000"/>
<polygon points="659.3,47.54 657.8,50.3 660.8,50.3" fill="#000"/>
<polygon points="659.3,51.84 657.8,54.6 660.8,54.6" fill="#000"/>
<polygon points="656,55.34 654.5,58.1 657.5,58.1" fill="#000"/>
<polygon points="662.5,54.74 661,57.5 664,57.5" fill="#000"/>
<polygon points="659.3,53.94 657.8,56.7 660.8,56.7" fill="#000"/>
<line x1="644.65" y1="50.5" x2="644.65" y2="57" stroke="#1a1a1a" stroke-width="0.8"/>
<line x1="642.85" y1="50.5" x2="646.45" y2="50.5" stroke="#1a1a1a" stroke-width="0.8"/>
<line x1="642.85" y1="57" x2="646.45" y2="57" stroke="#1a1a1a" stroke-width="0.8"/>
<line x1="659.2" y1="49" x2="659.2" y2="55" stroke="#1a1a1a" stroke-width="0.8"/>
<line x1="657.4" y1="49" x2="661" y2="49" stroke="#1a1a1a" stroke-width="0.8"/>
<line x1="657.4" y1="55" x2="661" y2="55" stroke="#1a1a1a" stroke-width="0.8"/>
<circle cx="642.05" cy="33.8" r="0.72" fill="#2a2a2a"/>
<circle cx="644.65" cy="33.8" r="0.72" fill="#2a2a2a"/>
<circle cx="647.25" cy="33.8" r="0.72" fill="#2a2a2a"/>
<circle cx="655.3" cy="33.8" r="0.72" fill="#2a2a2a"/>
<circle cx="657.9" cy="33.8" r="0.72" fill="#2a2a2a"/>
<circle cx="660.5" cy="33.8" r="0.72" fill="#2a2a2a"/>
<circle cx="663.1" cy="33.8" r="0.72" fill="#2a2a2a"/>
<text x="362.6" y="47.4" font-size="5.9" text-anchor="middle" font-weight="bold" fill="#333" stroke="#333" stroke-width="0.12" textLength="57" lengthAdjust="spacingAndGlyphs" transform="rotate(-90 362.6 47.4)">% CD8<tspan dy="-1.8" font-size="3.8">+</tspan><tspan dy="1.8"> </tspan> Granzyme K<tspan dy="-1.8" font-size="3.8">+</tspan></text>
<text x="340.4" y="16.1" font-size="9" font-weight="bold" fill="#111" stroke="#111" stroke-width="0.12" textLength="11.4" lengthAdjust="spacingAndGlyphs">(b)</text>
<rect x="375.5" y="78.6" width="11.4" height="3" fill="#000"/>
<rect x="375.7" y="78.3" width="2.6" height="2.6" fill="#000"/>
<rect x="378.7" y="78.3" width="2.6" height="2.6" fill="#000"/>
<rect x="381.7" y="78.3" width="2.6" height="2.6" fill="#000"/>
<rect x="384.2" y="78.3" width="2.6" height="2.6" fill="#000"/>
<polygon points="393,78.4 391.55,81.07 394.45,81.07" fill="#000"/>
<polygon points="395.8,78.4 394.35,81.07 397.25,81.07" fill="#000"/>
<polygon points="398.6,78.4 397.15,81.07 400.05,81.07" fill="#000"/>
<polygon points="400.4,78.4 398.95,81.07 401.85,81.07" fill="#000"/>
<polygon points="396.5,76.54 395,79.3 398,79.3" fill="#000"/>
<rect x="391.8" y="80.1" width="9.5" height="1.5" fill="#000"/>
<text x="0.6" y="134.5" font-size="8.6" font-weight="bold" fill="#111" stroke="#111" stroke-width="0.12" textLength="10.6" lengthAdjust="spacingAndGlyphs">(c)</text>
<text x="33.8" y="135.7" font-size="11" fill="#222" stroke="#222" stroke-width="0.16" textLength="61.4" lengthAdjust="spacingAndGlyphs">Granzyme&#160; K</text>
<text x="145.6" y="135.7" font-size="11" fill="#222" stroke="#222" stroke-width="0.16" textLength="61" lengthAdjust="spacingAndGlyphs">Granzyme&#160; B</text>
<text x="276.4" y="135.7" font-size="11" fill="#222" stroke="#222" stroke-width="0.16" textLength="25" lengthAdjust="spacingAndGlyphs">TIA-1</text>
<circle cx="65" cy="188.95" r="40.35" fill="#9f9ea3" stroke="#2a2a2a" stroke-width="0.9"/>
<path d="M65,188.95 L65,148.6 A40.35,40.35 0 0 1 89.67,220.88 Z" fill="#fff" stroke="#2a2a2a" stroke-width="0.8" stroke-linejoin="round"/>
<text x="66.7" y="169.5" font-size="9.1" fill="#151515" stroke="#151515" stroke-width="0.16" textLength="28.6" lengthAdjust="spacingAndGlyphs">39.53%</text>
<text x="44" y="212" font-size="9.1" fill="#151515" stroke="#151515" stroke-width="0.16" textLength="29.3" lengthAdjust="spacingAndGlyphs">60.47%</text>
<circle cx="174.2" cy="188.3" r="40.5" fill="#9f9ea3" stroke="#2a2a2a" stroke-width="0.9"/>
<path d="M174.2,188.3 L174.2,147.8 A40.5,40.5 0 0 1 194.27,153.12 Z" fill="#fff" stroke="#2a2a2a" stroke-width="0.8" stroke-linejoin="round"/>
<text x="174.8" y="165" font-size="9.1" fill="#151515" stroke="#151515" stroke-width="0.16" textLength="24.8" lengthAdjust="spacingAndGlyphs">8.25%</text>
<text x="162.8" y="213" font-size="9.1" fill="#151515" stroke="#151515" stroke-width="0.16" textLength="29.2" lengthAdjust="spacingAndGlyphs">91.75%</text>
<circle cx="288.7" cy="188.3" r="40.6" fill="#9f9ea3" stroke="#2a2a2a" stroke-width="0.9"/>
<path d="M288.7,188.3 L288.7,147.7 A40.6,40.6 0 0 1 303.93,150.66 Z" fill="#fff" stroke="#2a2a2a" stroke-width="0.8" stroke-linejoin="round"/>
<text x="289.9" y="164.3" font-size="9.1" fill="#151515" stroke="#151515" stroke-width="0.16" textLength="24.7" lengthAdjust="spacingAndGlyphs">6.12%</text>
<text x="277.7" y="210.3" font-size="9.1" fill="#151515" stroke="#151515" stroke-width="0.16" textLength="29.2" lengthAdjust="spacingAndGlyphs">93.88%</text>
<circle cx="64.8" cy="278" r="40.5" fill="#5454f6" stroke="#2a2a2a" stroke-width="0.9"/>
<path d="M64.8,278 L64.8,237.5 A40.5,40.5 0 1 1 46.62,314.19 Z" fill="#94bff9" stroke="#2a2a2a" stroke-width="0.8" stroke-linejoin="round"/>
<text x="65.9" y="263.6" font-size="9.1" fill="#151515" stroke="#151515" stroke-width="0.16" textLength="29" lengthAdjust="spacingAndGlyphs">57.41%</text>
<text x="28.7" y="288.1" font-size="9.1" fill="#151515" stroke="#151515" stroke-width="0.16" textLength="29.5" lengthAdjust="spacingAndGlyphs">42.59%</text>
<circle cx="176.8" cy="277.5" r="40.3" fill="#5454f6" stroke="#2a2a2a" stroke-width="0.9"/>
<path d="M176.8,277.5 L176.8,237.2 A40.3,40.3 0 0 1 189.69,239.32 Z" fill="#94bff9" stroke="#2a2a2a" stroke-width="0.8" stroke-linejoin="round"/>
<text x="178.6" y="253.2" font-size="9.1" fill="#151515" stroke="#151515" stroke-width="0.16" textLength="23.6" lengthAdjust="spacingAndGlyphs">5.18%</text>
<text x="165.5" y="300.6" font-size="9.1" fill="#151515" stroke="#151515" stroke-width="0.16" textLength="28.7" lengthAdjust="spacingAndGlyphs">94.82%</text>
<circle cx="288.7" cy="277.5" r="40.5" fill="#5454f6" stroke="#2a2a2a" stroke-width="0.9"/>
<path d="M288.7,277.5 L288.7,237 A40.5,40.5 0 0 1 303.68,239.87 Z" fill="#94bff9" stroke="#2a2a2a" stroke-width="0.8" stroke-linejoin="round"/>
<text x="289.9" y="251.9" font-size="9.1" fill="#151515" stroke="#151515" stroke-width="0.16" textLength="24.7" lengthAdjust="spacingAndGlyphs">6.03%</text>
<text x="277.3" y="301.5" font-size="9.1" fill="#151515" stroke="#151515" stroke-width="0.16" textLength="29.6" lengthAdjust="spacingAndGlyphs">93.97%</text>
<rect x="359.6" y="175.6" width="16.6" height="8.4" fill="#fff" stroke="#1e1e1e" stroke-width="0.9"/>
<text x="382.6" y="183.6" font-size="10.4" fill="#222" stroke="#222" stroke-width="0.16" textLength="94.3" lengthAdjust="spacingAndGlyphs">Unadjuvanted&#160; CD4</text>
<rect x="359.6" y="188.4" width="16.6" height="8.4" fill="#9f9ea3" stroke="#1e1e1e" stroke-width="0.9"/>
<text x="382.6" y="197" font-size="10.4" fill="#222" stroke="#222" stroke-width="0.16" textLength="94.3" lengthAdjust="spacingAndGlyphs">Unadjuvanted&#160; CD8</text>
<rect x="356.6" y="267.4" width="16.6" height="8.4" fill="#94bff9" stroke="#1e1e1e" stroke-width="0.9"/>
<text x="380.3" y="274.6" font-size="10.4" fill="#222" stroke="#222" stroke-width="0.16" textLength="107.5" lengthAdjust="spacingAndGlyphs">IL-4R antagonist&#160; CD4</text>
<rect x="356.6" y="279.2" width="16.6" height="8.4" fill="#5454f6" stroke="#1e1e1e" stroke-width="0.9"/>
<text x="380.3" y="288" font-size="10.4" fill="#222" stroke="#222" stroke-width="0.16" textLength="107.5" lengthAdjust="spacingAndGlyphs">IL-4R antagonist&#160; CD8</text>
<line x1="67.2" y1="347.9" x2="67.2" y2="449.2" stroke="#333" stroke-width="1.2"/>
<line x1="66.6" y1="448.6" x2="503.1" y2="448.6" stroke="#333" stroke-width="1.2"/>
<line x1="64" y1="448.6" x2="67.2" y2="448.6" stroke="#333" stroke-width="1"/>
<text x="61.4" y="451.45" font-size="7.9" text-anchor="end" font-weight="bold" fill="#1a1a1a" stroke="#1a1a1a" stroke-width="0.12" textLength="3.8" lengthAdjust="spacingAndGlyphs">0</text>
<line x1="64" y1="415.2" x2="67.2" y2="415.2" stroke="#333" stroke-width="1"/>
<text x="61.4" y="418.05" font-size="7.9" text-anchor="end" font-weight="bold" fill="#1a1a1a" stroke="#1a1a1a" stroke-width="0.12" textLength="11.8" lengthAdjust="spacingAndGlyphs">500</text>
<line x1="64" y1="381.8" x2="67.2" y2="381.8" stroke="#333" stroke-width="1"/>
<text x="61.4" y="384.65" font-size="7.9" text-anchor="end" font-weight="bold" fill="#1a1a1a" stroke="#1a1a1a" stroke-width="0.12" textLength="15.7" lengthAdjust="spacingAndGlyphs">1000</text>
<line x1="64" y1="348.4" x2="67.2" y2="348.4" stroke="#333" stroke-width="1"/>
<text x="61.4" y="351.25" font-size="7.9" text-anchor="end" font-weight="bold" fill="#1a1a1a" stroke="#1a1a1a" stroke-width="0.12" textLength="15.7" lengthAdjust="spacingAndGlyphs">1500</text>
<line x1="90.9" y1="448.6" x2="90.9" y2="451.8" stroke="#333" stroke-width="1"/>
<text x="90.9" y="461.1" font-size="7.3" text-anchor="middle" font-weight="bold" fill="#222" stroke="#222" stroke-width="0.12" textLength="56" lengthAdjust="spacingAndGlyphs">Pre-vaccination</text>
<line x1="146" y1="448.6" x2="146" y2="451.8" stroke="#333" stroke-width="1"/>
<text x="146" y="461.1" font-size="7.3" text-anchor="middle" font-weight="bold" fill="#222" stroke="#222" stroke-width="0.12" textLength="16.5" lengthAdjust="spacingAndGlyphs">wk 4</text>
<line x1="200.9" y1="448.6" x2="200.9" y2="451.8" stroke="#333" stroke-width="1"/>
<text x="200.9" y="461.1" font-size="7.3" text-anchor="middle" font-weight="bold" fill="#222" stroke="#222" stroke-width="0.12" textLength="16.5" lengthAdjust="spacingAndGlyphs">wk 5</text>
<line x1="256.1" y1="448.6" x2="256.1" y2="451.8" stroke="#333" stroke-width="1"/>
<text x="256.1" y="461.1" font-size="7.3" text-anchor="middle" font-weight="bold" fill="#222" stroke="#222" stroke-width="0.12" textLength="16.5" lengthAdjust="spacingAndGlyphs">wk 8</text>
<line x1="311.6" y1="448.6" x2="311.6" y2="451.8" stroke="#333" stroke-width="1"/>
<text x="311.6" y="461.1" font-size="7.3" text-anchor="middle" font-weight="bold" fill="#222" stroke="#222" stroke-width="0.12" textLength="20" lengthAdjust="spacingAndGlyphs">wk 12</text>
<line x1="367.1" y1="448.6" x2="367.1" y2="451.8" stroke="#333" stroke-width="1"/>
<text x="367.1" y="461.1" font-size="7.3" text-anchor="middle" font-weight="bold" fill="#222" stroke="#222" stroke-width="0.12" textLength="20.3" lengthAdjust="spacingAndGlyphs">wk 13</text>
<line x1="422" y1="448.6" x2="422" y2="451.8" stroke="#333" stroke-width="1"/>
<text x="422" y="461.1" font-size="7.3" text-anchor="middle" font-weight="bold" fill="#222" stroke="#222" stroke-width="0.12" textLength="20.3" lengthAdjust="spacingAndGlyphs">wk 17</text>
<line x1="477.2" y1="448.6" x2="477.2" y2="451.8" stroke="#333" stroke-width="1"/>
<text x="477.2" y="461.1" font-size="7.3" text-anchor="middle" font-weight="bold" fill="#222" stroke="#222" stroke-width="0.12" textLength="20.3" lengthAdjust="spacingAndGlyphs">wk 20</text>
<rect x="129.9" y="420.5" width="12.5" height="28.1" fill="#fff" stroke="#1a1a1a" stroke-width="1"/>
<rect x="149.9" y="430.5" width="14" height="18.1" fill="#5454f6"/>
<rect x="129.1" y="398.1" width="4" height="4" fill="#000"/>
<rect x="139" y="396.3" width="4" height="4" fill="#000"/>
<rect x="134.5" y="406.2" width="4" height="4" fill="#000"/>
<rect x="134.5" y="430.7" width="4" height="4" fill="#000"/>
<rect x="129.1" y="439.6" width="4" height="4" fill="#000"/>
<rect x="139" y="437.9" width="4" height="4" fill="#000"/>
<polygon points="156.7,410.35 154.3,414.77 159.1,414.77" fill="#000"/>
<polygon points="151.7,419.65 149.3,424.07 154.1,424.07" fill="#000"/>
<polygon points="162.1,419.65 159.7,424.07 164.5,424.07" fill="#000"/>
<polygon points="151.7,436.35 149.3,440.77 154.1,440.77" fill="#000"/>
<polygon points="151.7,440.95 149.3,445.37 154.1,445.37" fill="#000"/>
<polygon points="162.1,439.85 159.7,444.27 164.5,444.27" fill="#000"/>
<line x1="136.15" y1="412.4" x2="136.15" y2="428.2" stroke="#1a1a1a" stroke-width="1.25"/>
<line x1="132.85" y1="412.4" x2="139.45" y2="412.4" stroke="#1a1a1a" stroke-width="1.25"/>
<line x1="132.85" y1="428.2" x2="139.45" y2="428.2" stroke="#1a1a1a" stroke-width="1.25"/>
<line x1="156.9" y1="425.5" x2="156.9" y2="435.4" stroke="#1a1a1a" stroke-width="1.25"/>
<line x1="153.6" y1="425.5" x2="160.2" y2="425.5" stroke="#1a1a1a" stroke-width="1.25"/>
<line x1="153.6" y1="435.4" x2="160.2" y2="435.4" stroke="#1a1a1a" stroke-width="1.25"/>
<rect x="184.8" y="425.1" width="12.5" height="23.5" fill="#fff" stroke="#1a1a1a" stroke-width="1"/>
<rect x="204.8" y="436" width="14" height="12.6" fill="#5454f6"/>
<rect x="189.1" y="387.3" width="4" height="4" fill="#000"/>
<rect x="189.1" y="412" width="4" height="4" fill="#000"/>
<rect x="189.1" y="421" width="4" height="4" fill="#000"/>
<rect x="189.1" y="437.4" width="4" height="4" fill="#000"/>
<rect x="184.7" y="440.7" width="4" height="4" fill="#000"/>
<rect x="193.9" y="438.9" width="4" height="4" fill="#000"/>
<polygon points="207.1,424.85 204.7,429.27 209.5,429.27" fill="#000"/>
<polygon points="216.8,421.35 214.4,425.77 219.2,425.77" fill="#000"/>
<polygon points="212,428.85 209.6,433.27 214.4,433.27" fill="#000"/>
<polygon points="212,437.45 209.6,441.87 214.4,441.87" fill="#000"/>
<polygon points="207.1,443.95 204.7,448.37 209.5,448.37" fill="#000"/>
<polygon points="216.8,443.05 214.4,447.47 219.2,447.47" fill="#000"/>
<line x1="191.05" y1="415.8" x2="191.05" y2="433" stroke="#1a1a1a" stroke-width="1.25"/>
<line x1="187.75" y1="415.8" x2="194.35" y2="415.8" stroke="#1a1a1a" stroke-width="1.25"/>
<line x1="187.75" y1="433" x2="194.35" y2="433" stroke="#1a1a1a" stroke-width="1.25"/>
<line x1="211.8" y1="431.5" x2="211.8" y2="439" stroke="#1a1a1a" stroke-width="1.25"/>
<line x1="208.5" y1="431.5" x2="215.1" y2="431.5" stroke="#1a1a1a" stroke-width="1.25"/>
<line x1="208.5" y1="439" x2="215.1" y2="439" stroke="#1a1a1a" stroke-width="1.25"/>
<rect x="240" y="434.5" width="12.5" height="14.1" fill="#fff" stroke="#1a1a1a" stroke-width="1"/>
<rect x="260" y="433" width="14" height="15.6" fill="#5454f6"/>
<rect x="239.9" y="431.4" width="4" height="4" fill="#000"/>
<rect x="249.1" y="427.3" width="4" height="4" fill="#000"/>
<rect x="249.1" y="430.5" width="4" height="4" fill="#000"/>
<rect x="239.9" y="437" width="4" height="4" fill="#000"/>
<rect x="249.1" y="438.9" width="4" height="4" fill="#000"/>
<rect x="244.7" y="443.2" width="4" height="4" fill="#000"/>
<polygon points="267.3,408.35 264.9,412.77 269.7,412.77" fill="#000"/>
<polygon points="262.3,432.25 259.9,436.67 264.7,436.67" fill="#000"/>
<polygon points="272,432.25 269.6,436.67 274.4,436.67" fill="#000"/>
<polygon points="267.3,433.35 264.9,437.77 269.7,437.77" fill="#000"/>
<polygon points="262.3,439.25 259.9,443.67 264.7,443.67" fill="#000"/>
<polygon points="272,437.05 269.6,441.47 274.4,441.47" fill="#000"/>
<line x1="246.25" y1="432" x2="246.25" y2="437.5" stroke="#1a1a1a" stroke-width="1.25"/>
<line x1="242.95" y1="432" x2="249.55" y2="432" stroke="#1a1a1a" stroke-width="1.25"/>
<line x1="242.95" y1="437.5" x2="249.55" y2="437.5" stroke="#1a1a1a" stroke-width="1.25"/>
<line x1="267" y1="428.5" x2="267" y2="437.5" stroke="#1a1a1a" stroke-width="1.25"/>
<line x1="263.7" y1="428.5" x2="270.3" y2="428.5" stroke="#1a1a1a" stroke-width="1.25"/>
<line x1="263.7" y1="437.5" x2="270.3" y2="437.5" stroke="#1a1a1a" stroke-width="1.25"/>
<rect x="295.5" y="415.4" width="12.5" height="33.2" fill="#fff" stroke="#1a1a1a" stroke-width="1"/>
<rect x="315.5" y="407.5" width="14" height="41.1" fill="#5454f6"/>
<rect x="299.7" y="385.1" width="4" height="4" fill="#000"/>
<rect x="299.7" y="403" width="4" height="4" fill="#000"/>
<rect x="299.7" y="407.5" width="4" height="4" fill="#000"/>
<rect x="294.7" y="425.4" width="4" height="4" fill="#000"/>
<rect x="304.2" y="425.4" width="4" height="4" fill="#000"/>
<rect x="299.7" y="431.4" width="4" height="4" fill="#000"/>
<polygon points="322.3,368.45 319.9,372.87 324.7,372.87" fill="#000"/>
<polygon points="322.3,396.35 319.9,400.77 324.7,400.77" fill="#000"/>
<polygon points="322.3,406.05 319.9,410.47 324.7,410.47" fill="#000"/>
<polygon points="322.3,409.85 319.9,414.27 324.7,414.27" fill="#000"/>
<polygon points="322.3,421.75 319.9,426.17 324.7,426.17" fill="#000"/>
<polygon points="322.3,426.25 319.9,430.67 324.7,430.67" fill="#000"/>
<line x1="301.75" y1="408" x2="301.75" y2="422.2" stroke="#1a1a1a" stroke-width="1.25"/>
<line x1="298.45" y1="408" x2="305.05" y2="408" stroke="#1a1a1a" stroke-width="1.25"/>
<line x1="298.45" y1="422.2" x2="305.05" y2="422.2" stroke="#1a1a1a" stroke-width="1.25"/>
<line x1="322.5" y1="398.6" x2="322.5" y2="415.4" stroke="#1a1a1a" stroke-width="1.25"/>
<line x1="319.2" y1="398.6" x2="325.8" y2="398.6" stroke="#1a1a1a" stroke-width="1.25"/>
<line x1="319.2" y1="415.4" x2="325.8" y2="415.4" stroke="#1a1a1a" stroke-width="1.25"/>
<rect x="351" y="432.9" width="12.5" height="15.7" fill="#fff" stroke="#1a1a1a" stroke-width="1"/>
<rect x="371" y="428.1" width="14" height="20.5" fill="#5454f6"/>
<rect x="349.9" y="428.4" width="4" height="4" fill="#000"/>
<rect x="359.9" y="425" width="4" height="4" fill="#000"/>
<rect x="349.9" y="434.3" width="4" height="4" fill="#000"/>
<rect x="349.9" y="439.3" width="4" height="4" fill="#000"/>
<rect x="359.9" y="438.1" width="4" height="4" fill="#000"/>
<rect x="354.7" y="432.9" width="4" height="4" fill="#000"/>
<polygon points="377.6,395.65 375.2,400.07 380,400.07" fill="#000"/>
<polygon points="372.8,422.25 370.4,426.67 375.2,426.67" fill="#000"/>
<polygon points="377.6,425.15 375.2,429.57 380,429.57" fill="#000"/>
<polygon points="377.6,435.15 375.2,439.57 380,439.57" fill="#000"/>
<polygon points="382.3,435.15 379.9,439.57 384.7,439.57" fill="#000"/>
<polygon points="372.8,438.95 370.4,443.37 375.2,443.37" fill="#000"/>
<line x1="357.25" y1="431" x2="357.25" y2="435.5" stroke="#1a1a1a" stroke-width="1.25"/>
<line x1="353.95" y1="431" x2="360.55" y2="431" stroke="#1a1a1a" stroke-width="1.25"/>
<line x1="353.95" y1="435.5" x2="360.55" y2="435.5" stroke="#1a1a1a" stroke-width="1.25"/>
<line x1="378" y1="421.4" x2="378" y2="434.1" stroke="#1a1a1a" stroke-width="1.25"/>
<line x1="374.7" y1="421.4" x2="381.3" y2="421.4" stroke="#1a1a1a" stroke-width="1.25"/>
<line x1="374.7" y1="434.1" x2="381.3" y2="434.1" stroke="#1a1a1a" stroke-width="1.25"/>
<rect x="405.9" y="430.4" width="12.5" height="18.2" fill="#fff" stroke="#1a1a1a" stroke-width="1"/>
<rect x="425.9" y="420.4" width="14" height="28.2" fill="#5454f6"/>
<rect x="410.2" y="423.5" width="4" height="4" fill="#000"/>
<rect x="405.3" y="429.2" width="4" height="4" fill="#000"/>
<rect x="415.1" y="426.2" width="4" height="4" fill="#000"/>
<rect x="415.1" y="430.7" width="4" height="4" fill="#000"/>
<rect x="410.2" y="432.9" width="4" height="4" fill="#000"/>
<rect x="410.2" y="437.4" width="4" height="4" fill="#000"/>
<polygon points="432.8,370.65 430.4,375.07 435.2,375.07" fill="#000"/>
<polygon points="437.6,422.85 435.2,427.27 440,427.27" fill="#000"/>
<polygon points="427.9,426.75 425.5,431.17 430.3,431.17" fill="#000"/>
<polygon points="432.8,427.75 430.4,432.17 435.2,432.17" fill="#000"/>
<polygon points="437.6,429.25 435.2,433.67 440,433.67" fill="#000"/>
<polygon points="427.9,431.55 425.5,435.97 430.3,435.97" fill="#000"/>
<line x1="412.15" y1="428.5" x2="412.15" y2="433" stroke="#1a1a1a" stroke-width="1.25"/>
<line x1="408.85" y1="428.5" x2="415.45" y2="428.5" stroke="#1a1a1a" stroke-width="1.25"/>
<line x1="408.85" y1="433" x2="415.45" y2="433" stroke="#1a1a1a" stroke-width="1.25"/>
<line x1="432.9" y1="410.6" x2="432.9" y2="430.4" stroke="#1a1a1a" stroke-width="1.25"/>
<line x1="429.6" y1="410.6" x2="436.2" y2="410.6" stroke="#1a1a1a" stroke-width="1.25"/>
<line x1="429.6" y1="430.4" x2="436.2" y2="430.4" stroke="#1a1a1a" stroke-width="1.25"/>
<rect x="461.1" y="429.5" width="12.5" height="19.1" fill="#fff" stroke="#1a1a1a" stroke-width="1"/>
<rect x="481.1" y="422.5" width="14" height="26.1" fill="#5454f6"/>
<rect x="460.2" y="428.4" width="4" height="4" fill="#000"/>
<rect x="465" y="427" width="4" height="4" fill="#000"/>
<rect x="469.9" y="429.2" width="4" height="4" fill="#000"/>
<rect x="465" y="431.4" width="4" height="4" fill="#000"/>
<rect x="467.6" y="436.7" width="4" height="4" fill="#000"/>
<rect x="462.9" y="438.1" width="4" height="4" fill="#000"/>
<polygon points="487.6,401.95 485.2,406.37 490,406.37" fill="#000"/>
<polygon points="487.6,414.35 485.2,418.77 490,418.77" fill="#000"/>
<polygon points="487.6,420.35 485.2,424.77 490,424.77" fill="#000"/>
<polygon points="487.6,425.55 485.2,429.97 490,429.97" fill="#000"/>
<polygon points="483.1,429.25 480.7,433.67 485.5,433.67" fill="#000"/>
<polygon points="492.8,428.55 490.4,432.97 495.2,432.97" fill="#000"/>
<line x1="467.35" y1="429" x2="467.35" y2="433.5" stroke="#1a1a1a" stroke-width="1.25"/>
<line x1="464.05" y1="429" x2="470.65" y2="429" stroke="#1a1a1a" stroke-width="1.25"/>
<line x1="464.05" y1="433.5" x2="470.65" y2="433.5" stroke="#1a1a1a" stroke-width="1.25"/>
<line x1="488.1" y1="417.5" x2="488.1" y2="426.4" stroke="#1a1a1a" stroke-width="1.25"/>
<line x1="484.8" y1="417.5" x2="491.4" y2="417.5" stroke="#1a1a1a" stroke-width="1.25"/>
<line x1="484.8" y1="426.4" x2="491.4" y2="426.4" stroke="#1a1a1a" stroke-width="1.25"/>
<line x1="93.4" y1="335.6" x2="488.2" y2="335.6" stroke="#333" stroke-width="1.15"/>
<line x1="468.2" y1="331.6" x2="468.2" y2="339.6" stroke="#222" stroke-width="1.3"/>
<line x1="488.2" y1="331.6" x2="488.2" y2="339.6" stroke="#222" stroke-width="1.3"/>
<circle cx="457.5" cy="341.3" r="0.95" fill="#2a2a2a"/>
<circle cx="461.2" cy="341.3" r="0.95" fill="#2a2a2a"/>
<circle cx="464.9" cy="341.3" r="0.95" fill="#2a2a2a"/>
<circle cx="480.65" cy="341.3" r="0.95" fill="#2a2a2a"/>
<circle cx="484.35" cy="341.3" r="0.95" fill="#2a2a2a"/>
<line x1="93.4" y1="344.4" x2="433" y2="344.4" stroke="#333" stroke-width="1.15"/>
<line x1="413" y1="340.4" x2="413" y2="348.4" stroke="#222" stroke-width="1.3"/>
<line x1="433" y1="340.4" x2="433" y2="348.4" stroke="#222" stroke-width="1.3"/>
<circle cx="401.3" cy="349.9" r="0.95" fill="#2a2a2a"/>
<circle cx="405" cy="349.9" r="0.95" fill="#2a2a2a"/>
<circle cx="408.7" cy="349.9" r="0.95" fill="#2a2a2a"/>
<circle cx="426.3" cy="349.9" r="0.95" fill="#2a2a2a"/>
<line x1="93.4" y1="353.2" x2="377.8" y2="353.2" stroke="#333" stroke-width="1.15"/>
<line x1="357.5" y1="349.2" x2="357.5" y2="357.2" stroke="#222" stroke-width="1.3"/>
<line x1="377.8" y1="349.2" x2="377.8" y2="357.2" stroke="#222" stroke-width="1.3"/>
<circle cx="350.55" cy="358.8" r="0.95" fill="#2a2a2a"/>
<circle cx="354.25" cy="358.8" r="0.95" fill="#2a2a2a"/>
<circle cx="371.8" cy="358.8" r="0.95" fill="#2a2a2a"/>
<line x1="93.4" y1="362.1" x2="322.6" y2="362.1" stroke="#333" stroke-width="1.15"/>
<line x1="302.6" y1="358.1" x2="302.6" y2="366.1" stroke="#222" stroke-width="1.3"/>
<line x1="322.6" y1="358.1" x2="322.6" y2="366.1" stroke="#222" stroke-width="1.3"/>
<circle cx="295.45" cy="366.6" r="0.95" fill="#2a2a2a"/>
<circle cx="299.15" cy="366.6" r="0.95" fill="#2a2a2a"/>
<circle cx="315.35" cy="366.6" r="0.95" fill="#2a2a2a"/>
<circle cx="319.05" cy="366.6" r="0.95" fill="#2a2a2a"/>
<line x1="93.4" y1="380.5" x2="268.2" y2="380.5" stroke="#333" stroke-width="1.15"/>
<line x1="247.6" y1="376.5" x2="247.6" y2="384.5" stroke="#222" stroke-width="1.3"/>
<line x1="268.2" y1="376.5" x2="268.2" y2="384.5" stroke="#222" stroke-width="1.3"/>
<circle cx="242.4" cy="384.6" r="0.95" fill="#2a2a2a"/>
<circle cx="263.1" cy="384.6" r="0.95" fill="#2a2a2a"/>
<line x1="93.4" y1="388.8" x2="157.1" y2="388.8" stroke="#333" stroke-width="1.15"/>
<line x1="136.9" y1="384.8" x2="136.9" y2="392.8" stroke="#222" stroke-width="1.3"/>
<line x1="157.1" y1="384.8" x2="157.1" y2="392.8" stroke="#222" stroke-width="1.3"/>
<circle cx="128.4" cy="393.3" r="0.95" fill="#2a2a2a"/>
<circle cx="149.6" cy="393.3" r="0.95" fill="#2a2a2a"/>
<line x1="466.4" y1="396" x2="488" y2="396" stroke="#ff2a2a" stroke-width="1.2"/>
<text x="477.1" y="394.5" font-size="10.5" text-anchor="middle" font-weight="bold" fill="#ff2a2a" stroke="#ff2a2a" stroke-width="0.12">*</text>
<rect x="507.3" y="398.9" width="4" height="4" fill="#000"/>
<polygon points="509.3,411.76 507,415.99 511.6,415.99" fill="#000"/>
<text x="520.9" y="403.7" font-size="7.8" fill="#222" stroke="#222" stroke-width="0.16" textLength="48.4" lengthAdjust="spacingAndGlyphs">Unadjuvanted</text>
<text x="520.9" y="417.1" font-size="7.8" fill="#222" stroke="#222" stroke-width="0.16" textLength="59.9" lengthAdjust="spacingAndGlyphs">IL-4R antagonist</text>
<text x="0.6" y="336.1" font-size="8.8" font-weight="bold" fill="#111" stroke="#111" stroke-width="0.12" textLength="11" lengthAdjust="spacingAndGlyphs">(d)</text>
<text x="28.3" y="397.9" font-size="8.5" text-anchor="middle" fill="#1a1a1a" stroke="#1a1a1a" stroke-width="0.2" textLength="136.2" lengthAdjust="spacingAndGlyphs" transform="rotate(-90 28.3 397.9)">CD4<tspan dy="-3.3" font-size="6.2">+</tspan><tspan dy="3.3"> Gran K<tspan dy="-3.3" font-size="6.2">+</tspan><tspan dy="3.3"> Gran B<tspan dy="-3.3" font-size="6.2">+</tspan><tspan dy="3.3"> TIA-1<tspan dy="-3.3" font-size="6.2">+</tspan><tspan dy="3.3"> cells</tspan></tspan></tspan></tspan></text>
<text x="40.2" y="398" font-size="8.5" text-anchor="middle" fill="#1a1a1a" stroke="#1a1a1a" stroke-width="0.2" textLength="76.5" lengthAdjust="spacingAndGlyphs" transform="rotate(-90 40.2 398)">(per 10<tspan dy="-3.3" font-size="6.2">6</tspan><tspan dy="3.3"> CD4<tspan dy="-3.3" font-size="6.2">+</tspan><tspan dy="3.3"> cells)</tspan></tspan></text>
<rect x="94.8" y="445.8" width="13.9" height="2.8" fill="#5454f6"/>
<circle cx="76.1" cy="443.3" r="2.2" fill="#000"/>
<circle cx="81.9" cy="442.6" r="2.2" fill="#000"/>
<circle cx="76.1" cy="447.4" r="2.2" fill="#000"/>
<circle cx="81.9" cy="447.4" r="2.2" fill="#000"/>
<circle cx="86.4" cy="445.3" r="2.2" fill="#000"/>
<circle cx="79" cy="445.5" r="2.2" fill="#000"/>
<circle cx="101.9" cy="439.5" r="2.2" fill="#000"/>
<circle cx="98.8" cy="446.3" r="2.2" fill="#000"/>
<circle cx="103.5" cy="445.6" r="2.2" fill="#000"/>
<circle cx="107" cy="447.3" r="2.2" fill="#000"/>
<circle cx="100.2" cy="447.8" r="2.2" fill="#000"/>
<circle cx="105" cy="447.8" r="2.2" fill="#000"/>
<line x1="65.4" y1="507.4" x2="65.4" y2="609.2" stroke="#333" stroke-width="1.2"/>
<line x1="64.8" y1="608.6" x2="502.5" y2="608.6" stroke="#333" stroke-width="1.2"/>
<line x1="62.2" y1="608.6" x2="65.4" y2="608.6" stroke="#333" stroke-width="1"/>
<text x="59.6" y="611.45" font-size="7.9" text-anchor="end" font-weight="bold" fill="#1a1a1a" stroke="#1a1a1a" stroke-width="0.12" textLength="3.8" lengthAdjust="spacingAndGlyphs">0</text>
<line x1="62.2" y1="583.6" x2="65.4" y2="583.6" stroke="#333" stroke-width="1"/>
<text x="59.6" y="586.45" font-size="7.9" text-anchor="end" font-weight="bold" fill="#1a1a1a" stroke="#1a1a1a" stroke-width="0.12" textLength="16" lengthAdjust="spacingAndGlyphs">2000</text>
<line x1="62.2" y1="558.6" x2="65.4" y2="558.6" stroke="#333" stroke-width="1"/>
<text x="59.6" y="561.45" font-size="7.9" text-anchor="end" font-weight="bold" fill="#1a1a1a" stroke="#1a1a1a" stroke-width="0.12" textLength="16" lengthAdjust="spacingAndGlyphs">4000</text>
<line x1="62.2" y1="533.3" x2="65.4" y2="533.3" stroke="#333" stroke-width="1"/>
<text x="59.6" y="536.15" font-size="7.9" text-anchor="end" font-weight="bold" fill="#1a1a1a" stroke="#1a1a1a" stroke-width="0.12" textLength="16" lengthAdjust="spacingAndGlyphs">6000</text>
<line x1="62.2" y1="508.2" x2="65.4" y2="508.2" stroke="#333" stroke-width="1"/>
<text x="59.6" y="511.05" font-size="7.9" text-anchor="end" font-weight="bold" fill="#1a1a1a" stroke="#1a1a1a" stroke-width="0.12" textLength="16" lengthAdjust="spacingAndGlyphs">8000</text>
<line x1="90.9" y1="608.6" x2="90.9" y2="611.8" stroke="#333" stroke-width="1"/>
<text x="90.9" y="621.1" font-size="7.3" text-anchor="middle" font-weight="bold" fill="#222" stroke="#222" stroke-width="0.12" textLength="56" lengthAdjust="spacingAndGlyphs">Pre-vaccination</text>
<line x1="146" y1="608.6" x2="146" y2="611.8" stroke="#333" stroke-width="1"/>
<text x="146" y="621.1" font-size="7.3" text-anchor="middle" font-weight="bold" fill="#222" stroke="#222" stroke-width="0.12" textLength="16.5" lengthAdjust="spacingAndGlyphs">wk 4</text>
<line x1="200.9" y1="608.6" x2="200.9" y2="611.8" stroke="#333" stroke-width="1"/>
<text x="200.9" y="621.1" font-size="7.3" text-anchor="middle" font-weight="bold" fill="#222" stroke="#222" stroke-width="0.12" textLength="16.5" lengthAdjust="spacingAndGlyphs">wk 5</text>
<line x1="256.1" y1="608.6" x2="256.1" y2="611.8" stroke="#333" stroke-width="1"/>
<text x="256.1" y="621.1" font-size="7.3" text-anchor="middle" font-weight="bold" fill="#222" stroke="#222" stroke-width="0.12" textLength="16.5" lengthAdjust="spacingAndGlyphs">wk 8</text>
<line x1="311.6" y1="608.6" x2="311.6" y2="611.8" stroke="#333" stroke-width="1"/>
<text x="311.6" y="621.1" font-size="7.3" text-anchor="middle" font-weight="bold" fill="#222" stroke="#222" stroke-width="0.12" textLength="20" lengthAdjust="spacingAndGlyphs">wk 12</text>
<line x1="367.1" y1="608.6" x2="367.1" y2="611.8" stroke="#333" stroke-width="1"/>
<text x="367.1" y="621.1" font-size="7.3" text-anchor="middle" font-weight="bold" fill="#222" stroke="#222" stroke-width="0.12" textLength="20.3" lengthAdjust="spacingAndGlyphs">wk 13</text>
<line x1="422" y1="608.6" x2="422" y2="611.8" stroke="#333" stroke-width="1"/>
<text x="422" y="621.1" font-size="7.3" text-anchor="middle" font-weight="bold" fill="#222" stroke="#222" stroke-width="0.12" textLength="20.3" lengthAdjust="spacingAndGlyphs">wk 17</text>
<line x1="477.2" y1="608.6" x2="477.2" y2="611.8" stroke="#333" stroke-width="1"/>
<text x="477.2" y="621.1" font-size="7.3" text-anchor="middle" font-weight="bold" fill="#222" stroke="#222" stroke-width="0.12" textLength="20.3" lengthAdjust="spacingAndGlyphs">wk 20</text>
<rect x="129.9" y="584.8" width="12.5" height="23.8" fill="#fff" stroke="#1a1a1a" stroke-width="1"/>
<rect x="149.9" y="591" width="14" height="17.6" fill="#5454f6"/>
<rect x="128.7" y="568.9" width="4" height="4" fill="#000"/>
<rect x="138.8" y="567.9" width="4" height="4" fill="#000"/>
<rect x="128.7" y="585.5" width="4" height="4" fill="#000"/>
<rect x="138.8" y="584" width="4" height="4" fill="#000"/>
<rect x="133.9" y="591" width="4" height="4" fill="#000"/>
<rect x="133.9" y="597.7" width="4" height="4" fill="#000"/>
<polygon points="156.3,567.95 153.9,572.37 158.7,572.37" fill="#000"/>
<polygon points="156.3,582.15 153.9,586.57 158.7,586.57" fill="#000"/>
<polygon points="151.6,593.75 149.2,598.17 154,598.17" fill="#000"/>
<polygon points="161.3,591.05 158.9,595.47 163.7,595.47" fill="#000"/>
<polygon points="151.6,598.55 149.2,602.97 154,602.97" fill="#000"/>
<polygon points="161.3,597.05 158.9,601.47 163.7,601.47" fill="#000"/>
<line x1="136.15" y1="579.6" x2="136.15" y2="589.3" stroke="#1a1a1a" stroke-width="1.25"/>
<line x1="132.85" y1="579.6" x2="139.45" y2="579.6" stroke="#1a1a1a" stroke-width="1.25"/>
<line x1="132.85" y1="589.3" x2="139.45" y2="589.3" stroke="#1a1a1a" stroke-width="1.25"/>
<line x1="156.9" y1="584" x2="156.9" y2="595.2" stroke="#1a1a1a" stroke-width="1.25"/>
<line x1="153.6" y1="584" x2="160.2" y2="584" stroke="#1a1a1a" stroke-width="1.25"/>
<line x1="153.6" y1="595.2" x2="160.2" y2="595.2" stroke="#1a1a1a" stroke-width="1.25"/>
<rect x="184.8" y="577" width="12.5" height="31.6" fill="#fff" stroke="#1a1a1a" stroke-width="1"/>
<rect x="204.8" y="576.3" width="14" height="32.3" fill="#5454f6"/>
<rect x="189.1" y="542.6" width="4" height="4" fill="#000"/>
<rect x="189.1" y="551.6" width="4" height="4" fill="#000"/>
<rect x="184.2" y="584.7" width="4" height="4" fill="#000"/>
<rect x="193.9" y="580.5" width="4" height="4" fill="#000"/>
<rect x="184.2" y="593.7" width="4" height="4" fill="#000"/>
<rect x="193.9" y="593.7" width="4" height="4" fill="#000"/>
<polygon points="211.6,539.25 209.2,543.67 214,543.67" fill="#000"/>
<polygon points="211.6,561.65 209.2,566.07 214,566.07" fill="#000"/>
<polygon points="211.6,573.65 209.2,578.07 214,578.07" fill="#000"/>
<polygon points="206.7,586.35 204.3,590.77 209.1,590.77" fill="#000"/>
<polygon points="216.5,586.35 214.1,590.77 218.9,590.77" fill="#000"/>
<polygon points="211.6,595.75 209.2,600.17 214,600.17" fill="#000"/>
<line x1="191.05" y1="567.3" x2="191.05" y2="585.2" stroke="#1a1a1a" stroke-width="1.25"/>
<line x1="187.75" y1="567.3" x2="194.35" y2="567.3" stroke="#1a1a1a" stroke-width="1.25"/>
<line x1="187.75" y1="585.2" x2="194.35" y2="585.2" stroke="#1a1a1a" stroke-width="1.25"/>
<line x1="211.8" y1="567.3" x2="211.8" y2="584" stroke="#1a1a1a" stroke-width="1.25"/>
<line x1="208.5" y1="567.3" x2="215.1" y2="567.3" stroke="#1a1a1a" stroke-width="1.25"/>
<line x1="208.5" y1="584" x2="215.1" y2="584" stroke="#1a1a1a" stroke-width="1.25"/>
<rect x="240" y="594.5" width="12.5" height="14.1" fill="#fff" stroke="#1a1a1a" stroke-width="1"/>
<rect x="260" y="582.5" width="14" height="26.1" fill="#5454f6"/>
<rect x="241.7" y="587.7" width="4" height="4" fill="#000"/>
<rect x="245.4" y="587" width="4" height="4" fill="#000"/>
<rect x="239.4" y="595.9" width="4" height="4" fill="#000"/>
<rect x="249.1" y="593.7" width="4" height="4" fill="#000"/>
<rect x="244.7" y="591.4" width="4" height="4" fill="#000"/>
<rect x="242.5" y="590" width="4" height="4" fill="#000"/>
<polygon points="266.8,544.95 264.4,549.37 269.2,549.37" fill="#000"/>
<polygon points="266.8,580.35 264.4,584.77 269.2,584.77" fill="#000"/>
<polygon points="262.3,587.05 259.9,591.47 264.7,591.47" fill="#000"/>
<polygon points="271.7,586.75 269.3,591.17 274.1,591.17" fill="#000"/>
<polygon points="262.3,591.85 259.9,596.27 264.7,596.27" fill="#000"/>
<polygon points="271.7,591.85 269.3,596.27 274.1,596.27" fill="#000"/>
<line x1="246.25" y1="591" x2="246.25" y2="597" stroke="#1a1a1a" stroke-width="1.25"/>
<line x1="242.95" y1="591" x2="249.55" y2="591" stroke="#1a1a1a" stroke-width="1.25"/>
<line x1="242.95" y1="597" x2="249.55" y2="597" stroke="#1a1a1a" stroke-width="1.25"/>
<line x1="267" y1="575.1" x2="267" y2="590.4" stroke="#1a1a1a" stroke-width="1.25"/>
<line x1="263.7" y1="575.1" x2="270.3" y2="575.1" stroke="#1a1a1a" stroke-width="1.25"/>
<line x1="263.7" y1="590.4" x2="270.3" y2="590.4" stroke="#1a1a1a" stroke-width="1.25"/>
<rect x="295.5" y="599" width="12.5" height="9.6" fill="#fff" stroke="#1a1a1a" stroke-width="1"/>
<rect x="315.5" y="596.7" width="14" height="11.9" fill="#5454f6"/>
<rect x="294.2" y="586.5" width="4" height="4" fill="#000"/>
<rect x="299.1" y="590.5" width="4" height="4" fill="#000"/>
<rect x="294.2" y="597.7" width="4" height="4" fill="#000"/>
<rect x="294.2" y="602.2" width="4" height="4" fill="#000"/>
<rect x="299.1" y="601.4" width="4" height="4" fill="#000"/>
<rect x="303.9" y="601.4" width="4" height="4" fill="#000"/>
<polygon points="322,584.35 319.6,588.77 324.4,588.77" fill="#000"/>
<polygon points="317.1,594.05 314.7,598.47 319.5,598.47" fill="#000"/>
<polygon points="322,596.35 319.6,600.77 324.4,600.77" fill="#000"/>
<polygon points="326.8,593.35 324.4,597.77 329.2,597.77" fill="#000"/>
<polygon points="326.8,598.55 324.4,602.97 329.2,602.97" fill="#000"/>
<polygon points="317.1,601.85 314.7,606.27 319.5,606.27" fill="#000"/>
<line x1="301.75" y1="596" x2="301.75" y2="602" stroke="#1a1a1a" stroke-width="1.25"/>
<line x1="298.45" y1="596" x2="305.05" y2="596" stroke="#1a1a1a" stroke-width="1.25"/>
<line x1="298.45" y1="602" x2="305.05" y2="602" stroke="#1a1a1a" stroke-width="1.25"/>
<line x1="322.5" y1="593.5" x2="322.5" y2="600" stroke="#1a1a1a" stroke-width="1.25"/>
<line x1="319.2" y1="593.5" x2="325.8" y2="593.5" stroke="#1a1a1a" stroke-width="1.25"/>
<line x1="319.2" y1="600" x2="325.8" y2="600" stroke="#1a1a1a" stroke-width="1.25"/>
<rect x="351" y="575.1" width="12.5" height="33.5" fill="#fff" stroke="#1a1a1a" stroke-width="1"/>
<rect x="371" y="566.9" width="14" height="41.7" fill="#5454f6"/>
<rect x="354.4" y="547.3" width="4" height="4" fill="#000"/>
<rect x="354.4" y="561.6" width="4" height="4" fill="#000"/>
<rect x="354.4" y="575.3" width="4" height="4" fill="#000"/>
<rect x="349.4" y="582" width="4" height="4" fill="#000"/>
<rect x="349.4" y="586.5" width="4" height="4" fill="#000"/>
<rect x="359.1" y="585.5" width="4" height="4" fill="#000"/>
<polygon points="372.3,553.45 369.9,557.87 374.7,557.87" fill="#000"/>
<polygon points="382,553.45 379.6,557.87 384.4,557.87" fill="#000"/>
<polygon points="377.3,556.75 374.9,561.17 379.7,561.17" fill="#000"/>
<polygon points="377.3,563.45 374.9,567.87 379.7,567.87" fill="#000"/>
<polygon points="374.6,580.65 372.2,585.07 377,585.07" fill="#000"/>
<polygon points="379.8,579.45 377.4,583.87 382.2,583.87" fill="#000"/>
<line x1="357.25" y1="568.4" x2="357.25" y2="581" stroke="#1a1a1a" stroke-width="1.25"/>
<line x1="353.95" y1="568.4" x2="360.55" y2="568.4" stroke="#1a1a1a" stroke-width="1.25"/>
<line x1="353.95" y1="581" x2="360.55" y2="581" stroke="#1a1a1a" stroke-width="1.25"/>
<line x1="378" y1="562.1" x2="378" y2="571.6" stroke="#1a1a1a" stroke-width="1.25"/>
<line x1="374.7" y1="562.1" x2="381.3" y2="562.1" stroke="#1a1a1a" stroke-width="1.25"/>
<line x1="374.7" y1="571.6" x2="381.3" y2="571.6" stroke="#1a1a1a" stroke-width="1.25"/>
<rect x="405.9" y="584.5" width="12.5" height="24.1" fill="#fff" stroke="#1a1a1a" stroke-width="1"/>
<rect x="425.9" y="568.1" width="14" height="40.5" fill="#5454f6"/>
<rect x="410.9" y="579.9" width="4" height="4" fill="#000"/>
<rect x="405.3" y="584" width="4" height="4" fill="#000"/>
<rect x="414.7" y="584" width="4" height="4" fill="#000"/>
<rect x="409.4" y="586.2" width="4" height="4" fill="#000"/>
<rect x="409.4" y="592.9" width="4" height="4" fill="#000"/>
<rect x="407.5" y="588" width="4" height="4" fill="#000"/>
<polygon points="432.4,520.15 430,524.57 434.8,524.57" fill="#000"/>
<polygon points="432.6,565.85 430.2,570.27 435,570.27" fill="#000"/>
<polygon points="432.6,570.65 430.2,575.07 435,575.07" fill="#000"/>
<polygon points="427.9,576.65 425.5,581.07 430.3,581.07" fill="#000"/>
<polygon points="437.6,577.75 435.2,582.17 440,582.17" fill="#000"/>
<polygon points="432.6,584.05 430.2,588.47 435,588.47" fill="#000"/>
<line x1="412.15" y1="582.5" x2="412.15" y2="587" stroke="#1a1a1a" stroke-width="1.25"/>
<line x1="408.85" y1="582.5" x2="415.45" y2="582.5" stroke="#1a1a1a" stroke-width="1.25"/>
<line x1="408.85" y1="587" x2="415.45" y2="587" stroke="#1a1a1a" stroke-width="1.25"/>
<line x1="432.9" y1="558.4" x2="432.9" y2="577.5" stroke="#1a1a1a" stroke-width="1.25"/>
<line x1="429.6" y1="558.4" x2="436.2" y2="558.4" stroke="#1a1a1a" stroke-width="1.25"/>
<line x1="429.6" y1="577.5" x2="436.2" y2="577.5" stroke="#1a1a1a" stroke-width="1.25"/>
<rect x="461.1" y="587.5" width="12.5" height="21.1" fill="#fff" stroke="#1a1a1a" stroke-width="1"/>
<rect x="481.1" y="570" width="14" height="38.6" fill="#5454f6"/>
<rect x="465" y="571" width="4" height="4" fill="#000"/>
<rect x="465" y="579.9" width="4" height="4" fill="#000"/>
<rect x="460.2" y="587.7" width="4" height="4" fill="#000"/>
<rect x="469.9" y="588" width="4" height="4" fill="#000"/>
<rect x="465" y="588.4" width="4" height="4" fill="#000"/>
<rect x="465" y="596.7" width="4" height="4" fill="#000"/>
<polygon points="487.6,551.95 485.2,556.37 490,556.37" fill="#000"/>
<polygon points="482.8,563.95 480.4,568.37 485.2,568.37" fill="#000"/>
<polygon points="482.8,568.85 480.4,573.27 485.2,573.27" fill="#000"/>
<polygon points="492.3,567.35 489.9,571.77 494.7,571.77" fill="#000"/>
<polygon points="492.3,572.15 489.9,576.57 494.7,576.57" fill="#000"/>
<polygon points="487.6,582.25 485.2,586.67 490,586.67" fill="#000"/>
<line x1="467.35" y1="584.5" x2="467.35" y2="590.4" stroke="#1a1a1a" stroke-width="1.25"/>
<line x1="464.05" y1="584.5" x2="470.65" y2="584.5" stroke="#1a1a1a" stroke-width="1.25"/>
<line x1="464.05" y1="590.4" x2="470.65" y2="590.4" stroke="#1a1a1a" stroke-width="1.25"/>
<line x1="488.1" y1="566.1" x2="488.1" y2="574" stroke="#1a1a1a" stroke-width="1.25"/>
<line x1="484.8" y1="566.1" x2="491.4" y2="566.1" stroke="#1a1a1a" stroke-width="1.25"/>
<line x1="484.8" y1="574" x2="491.4" y2="574" stroke="#1a1a1a" stroke-width="1.25"/>
<line x1="92.5" y1="490" x2="487.6" y2="490" stroke="#333" stroke-width="1.15"/>
<line x1="467.3" y1="486" x2="467.3" y2="494" stroke="#222" stroke-width="1.3"/>
<line x1="487.6" y1="486" x2="487.6" y2="494" stroke="#222" stroke-width="1.3"/>
<circle cx="459.45" cy="495.4" r="0.95" fill="#2a2a2a"/>
<circle cx="463.15" cy="495.4" r="0.95" fill="#2a2a2a"/>
<circle cx="477" cy="495.4" r="0.95" fill="#2a2a2a"/>
<circle cx="480.7" cy="495.4" r="0.95" fill="#2a2a2a"/>
<circle cx="484.4" cy="495.4" r="0.95" fill="#2a2a2a"/>
<line x1="92.5" y1="499" x2="432.4" y2="499" stroke="#333" stroke-width="1.15"/>
<line x1="412.1" y1="495" x2="412.1" y2="503" stroke="#222" stroke-width="1.3"/>
<line x1="432.4" y1="495" x2="432.4" y2="503" stroke="#222" stroke-width="1.3"/>
<circle cx="397.55" cy="504.3" r="0.95" fill="#2a2a2a"/>
<circle cx="401.25" cy="504.3" r="0.95" fill="#2a2a2a"/>
<circle cx="404.95" cy="504.3" r="0.95" fill="#2a2a2a"/>
<circle cx="408.65" cy="504.3" r="0.95" fill="#2a2a2a"/>
<circle cx="424.55" cy="504.3" r="0.95" fill="#2a2a2a"/>
<circle cx="428.25" cy="504.3" r="0.95" fill="#2a2a2a"/>
<line x1="92.5" y1="507.3" x2="377.2" y2="507.3" stroke="#333" stroke-width="1.15"/>
<line x1="357.5" y1="503.3" x2="357.5" y2="511.3" stroke="#222" stroke-width="1.3"/>
<line x1="377.2" y1="503.3" x2="377.2" y2="511.3" stroke="#222" stroke-width="1.3"/>
<circle cx="349.65" cy="514.8" r="0.95" fill="#2a2a2a"/>
<circle cx="353.35" cy="514.8" r="0.95" fill="#2a2a2a"/>
<circle cx="366" cy="514.8" r="0.95" fill="#2a2a2a"/>
<circle cx="369.7" cy="514.8" r="0.95" fill="#2a2a2a"/>
<circle cx="373.4" cy="514.8" r="0.95" fill="#2a2a2a"/>
<line x1="92.5" y1="516.3" x2="321.2" y2="516.3" stroke="#333" stroke-width="1.15"/>
<line x1="300.9" y1="512.3" x2="300.9" y2="520.3" stroke="#222" stroke-width="1.3"/>
<line x1="321.2" y1="512.3" x2="321.2" y2="520.3" stroke="#222" stroke-width="1.3"/>
<circle cx="296.7" cy="520.1" r="0.95" fill="#2a2a2a"/>
<circle cx="313.35" cy="520.1" r="0.95" fill="#2a2a2a"/>
<circle cx="317.05" cy="520.1" r="0.95" fill="#2a2a2a"/>
<line x1="92.5" y1="524.6" x2="267.5" y2="524.6" stroke="#333" stroke-width="1.15"/>
<line x1="247.5" y1="520.6" x2="247.5" y2="528.6" stroke="#222" stroke-width="1.3"/>
<line x1="267.5" y1="520.6" x2="267.5" y2="528.6" stroke="#222" stroke-width="1.3"/>
<circle cx="237.5" cy="529.1" r="0.95" fill="#2a2a2a"/>
<circle cx="241.2" cy="529.1" r="0.95" fill="#2a2a2a"/>
<circle cx="244.9" cy="529.1" r="0.95" fill="#2a2a2a"/>
<circle cx="262.4" cy="529.1" r="0.95" fill="#2a2a2a"/>
<line x1="94.9" y1="533.7" x2="211.1" y2="533.7" stroke="#333" stroke-width="1.15"/>
<line x1="191.1" y1="529.7" x2="191.1" y2="537.7" stroke="#222" stroke-width="1.3"/>
<line x1="211.1" y1="529.7" x2="211.1" y2="537.7" stroke="#222" stroke-width="1.3"/>
<circle cx="184" cy="538.7" r="0.95" fill="#2a2a2a"/>
<circle cx="203.7" cy="538.7" r="0.95" fill="#2a2a2a"/>
<line x1="92.5" y1="559.7" x2="156.3" y2="559.7" stroke="#333" stroke-width="1.15"/>
<line x1="136.3" y1="555.7" x2="136.3" y2="563.7" stroke="#222" stroke-width="1.3"/>
<line x1="156.3" y1="555.7" x2="156.3" y2="563.7" stroke="#222" stroke-width="1.3"/>
<circle cx="128.05" cy="564.6" r="0.95" fill="#2a2a2a"/>
<circle cx="131.75" cy="564.6" r="0.95" fill="#2a2a2a"/>
<circle cx="148.6" cy="564.6" r="0.95" fill="#2a2a2a"/>
<line x1="465.6" y1="546.7" x2="487.6" y2="546.7" stroke="#ff2a2a" stroke-width="1.2"/>
<text x="476.4" y="545.5" font-size="10.5" text-anchor="middle" font-weight="bold" fill="#ff2a2a" stroke="#ff2a2a" stroke-width="0.12">*</text>
<rect x="508" y="567.4" width="4" height="4" fill="#000"/>
<polygon points="510,580.86 507.7,585.09 512.3,585.09" fill="#000"/>
<text x="521.6" y="572.2" font-size="7.8" fill="#222" stroke="#222" stroke-width="0.16" textLength="48.4" lengthAdjust="spacingAndGlyphs">Unadjuvanted</text>
<text x="521.6" y="586.2" font-size="7.8" fill="#222" stroke="#222" stroke-width="0.16" textLength="59.9" lengthAdjust="spacingAndGlyphs">IL-4R antagonist</text>
<text x="0.6" y="498.3" font-size="8.8" font-weight="bold" fill="#111" stroke="#111" stroke-width="0.12" textLength="11" lengthAdjust="spacingAndGlyphs">(e)</text>
<text x="28.1" y="558" font-size="8.5" text-anchor="middle" fill="#1a1a1a" stroke="#1a1a1a" stroke-width="0.2" textLength="136.6" lengthAdjust="spacingAndGlyphs" transform="rotate(-90 28.1 558)">CD8<tspan dy="-3.3" font-size="6.2">+</tspan><tspan dy="3.3"> Gran K<tspan dy="-3.3" font-size="6.2">+</tspan><tspan dy="3.3"> Gran B<tspan dy="-3.3" font-size="6.2">+</tspan><tspan dy="3.3"> TIA-1<tspan dy="-3.3" font-size="6.2">+</tspan><tspan dy="3.3"> cells</tspan></tspan></tspan></tspan></text>
<text x="40.2" y="558" font-size="8.5" text-anchor="middle" fill="#1a1a1a" stroke="#1a1a1a" stroke-width="0.2" textLength="76.5" lengthAdjust="spacingAndGlyphs" transform="rotate(-90 40.2 558)">(per 10<tspan dy="-3.3" font-size="6.2">6</tspan><tspan dy="3.3"> CD8<tspan dy="-3.3" font-size="6.2">+</tspan><tspan dy="3.3"> cells)</tspan></tspan></text>
<circle cx="75.5" cy="605.5" r="2.2" fill="#000"/>
<circle cx="79.5" cy="606.5" r="2.2" fill="#000"/>
<circle cx="83.5" cy="605.8" r="2.2" fill="#000"/>
<circle cx="86.5" cy="606.8" r="2.2" fill="#000"/>
<circle cx="77.5" cy="607.5" r="2.2" fill="#000"/>
<circle cx="82" cy="607.5" r="2.2" fill="#000"/>
<rect x="94.8" y="606.8" width="13.9" height="1.8" fill="#5454f6"/>
<circle cx="96.5" cy="606" r="2.2" fill="#000"/>
<circle cx="99.5" cy="605" r="2.2" fill="#000"/>
<circle cx="103" cy="606" r="2.2" fill="#000"/>
<circle cx="106.5" cy="606.5" r="2.2" fill="#000"/>
<circle cx="98" cy="607.5" r="2.2" fill="#000"/>
<circle cx="104.5" cy="607.5" r="2.2" fill="#000"/>
<text x="0.6" y="650.6" font-size="8.8" font-weight="bold" fill="#111" stroke="#111" stroke-width="0.12" textLength="9.8" lengthAdjust="spacingAndGlyphs">(f)</text>
<line x1="67.6" y1="675.8" x2="67.6" y2="723.1" stroke="#333" stroke-width="1.2"/>
<line x1="67.6" y1="729.6" x2="67.6" y2="777.4" stroke="#333" stroke-width="1.2"/>
<line x1="65.4" y1="723.1" x2="70.4" y2="723.1" stroke="#333" stroke-width="1"/>
<line x1="65.4" y1="729.8" x2="70.4" y2="729.8" stroke="#333" stroke-width="1"/>
<line x1="67" y1="776.8" x2="370.6" y2="776.8" stroke="#333" stroke-width="1.2"/>
<line x1="64.4" y1="676.5" x2="67.6" y2="676.5" stroke="#333" stroke-width="1"/>
<text x="61.6" y="679.35" font-size="7.9" text-anchor="end" font-weight="bold" fill="#1a1a1a" stroke="#1a1a1a" stroke-width="0.12" textLength="15.8" lengthAdjust="spacingAndGlyphs">6000</text>
<line x1="64.4" y1="694.5" x2="67.6" y2="694.5" stroke="#333" stroke-width="1"/>
<text x="61.6" y="697.35" font-size="7.9" text-anchor="end" font-weight="bold" fill="#1a1a1a" stroke="#1a1a1a" stroke-width="0.12" textLength="15.8" lengthAdjust="spacingAndGlyphs">4000</text>
<line x1="64.4" y1="712.4" x2="67.6" y2="712.4" stroke="#333" stroke-width="1"/>
<text x="61.6" y="715.25" font-size="7.9" text-anchor="end" font-weight="bold" fill="#1a1a1a" stroke="#1a1a1a" stroke-width="0.12" textLength="15.8" lengthAdjust="spacingAndGlyphs">2000</text>
<text x="61.6" y="732.65" font-size="7.9" text-anchor="end" font-weight="bold" fill="#1a1a1a" stroke="#1a1a1a" stroke-width="0.12" textLength="11.8" lengthAdjust="spacingAndGlyphs">800</text>
<line x1="64.4" y1="741.9" x2="67.6" y2="741.9" stroke="#333" stroke-width="1"/>
<text x="61.6" y="744.75" font-size="7.9" text-anchor="end" font-weight="bold" fill="#1a1a1a" stroke="#1a1a1a" stroke-width="0.12" textLength="11.8" lengthAdjust="spacingAndGlyphs">600</text>
<line x1="64.4" y1="753.5" x2="67.6" y2="753.5" stroke="#333" stroke-width="1"/>
<text x="61.6" y="756.35" font-size="7.9" text-anchor="end" font-weight="bold" fill="#1a1a1a" stroke="#1a1a1a" stroke-width="0.12" textLength="11.8" lengthAdjust="spacingAndGlyphs">400</text>
<line x1="64.4" y1="765.4" x2="67.6" y2="765.4" stroke="#333" stroke-width="1"/>
<text x="61.6" y="768.25" font-size="7.9" text-anchor="end" font-weight="bold" fill="#1a1a1a" stroke="#1a1a1a" stroke-width="0.12" textLength="11.8" lengthAdjust="spacingAndGlyphs">200</text>
<line x1="64.4" y1="776.8" x2="67.6" y2="776.8" stroke="#333" stroke-width="1"/>
<text x="61.6" y="779.65" font-size="7.9" text-anchor="end" font-weight="bold" fill="#1a1a1a" stroke="#1a1a1a" stroke-width="0.12" textLength="3.8" lengthAdjust="spacingAndGlyphs">0</text>
<text x="28.3" y="726" font-size="8.5" text-anchor="middle" fill="#1a1a1a" stroke="#1a1a1a" stroke-width="0.2" textLength="168.8" lengthAdjust="spacingAndGlyphs" transform="rotate(-90 28.3 726)">CD4<tspan dy="-3.3" font-size="6.2">+</tspan><tspan dy="3.3"> or CD8<tspan dy="-3.3" font-size="6.2">+</tspan><tspan dy="3.3"> Gran K<tspan dy="-3.3" font-size="6.2">+</tspan><tspan dy="3.3"> Gran B<tspan dy="-3.3" font-size="6.2">+</tspan><tspan dy="3.3"> TIA-1<tspan dy="-3.3" font-size="6.2">+</tspan><tspan dy="3.3"> cells</tspan></tspan></tspan></tspan></tspan></text>
<text x="40.5" y="726.1" font-size="8.5" text-anchor="middle" fill="#1a1a1a" stroke="#1a1a1a" stroke-width="0.2" textLength="85" lengthAdjust="spacingAndGlyphs" transform="rotate(-90 40.5 726.1)">(per 10<tspan dy="-3.3" font-size="6.2">6</tspan><tspan dy="3.3"> CD4/8<tspan dy="-3.3" font-size="6.2">+</tspan><tspan dy="3.3"> cells)</tspan></tspan></text>
<line x1="115.3" y1="776.8" x2="115.3" y2="780" stroke="#333" stroke-width="1"/>
<text x="115.3" y="789.2" font-size="7.3" text-anchor="middle" font-weight="bold" fill="#222" stroke="#222" stroke-width="0.12" textLength="16.6" lengthAdjust="spacingAndGlyphs">wk 4</text>
<rect x="75.8" y="752.2" width="13.6" height="24.6" fill="#fff" stroke="#1a1a1a" stroke-width="1"/>
<rect x="75.3" y="732.3" width="4" height="4" fill="#000"/>
<rect x="85.9" y="731.3" width="4" height="4" fill="#000"/>
<rect x="80.7" y="739.9" width="4" height="4" fill="#000"/>
<rect x="75.3" y="768.6" width="4" height="4" fill="#000"/>
<rect x="85.9" y="767.6" width="4" height="4" fill="#000"/>
<rect x="80.7" y="762" width="4" height="4" fill="#000"/>
<line x1="82.6" y1="744.8" x2="82.6" y2="759.3" stroke="#1a1a1a" stroke-width="1.3"/>
<line x1="79.1" y1="744.8" x2="86.1" y2="744.8" stroke="#1a1a1a" stroke-width="1.3"/>
<line x1="79.1" y1="759.3" x2="86.1" y2="759.3" stroke="#1a1a1a" stroke-width="1.3"/>
<rect x="97.2" y="760.9" width="15" height="15.9" fill="#58a4f4"/>
<polygon points="105,742.75 102.6,747.17 107.4,747.17" fill="#000"/>
<polygon points="99.2,752.05 96.8,756.47 101.6,756.47" fill="#000"/>
<polygon points="110.2,752.05 107.8,756.47 112.6,756.47" fill="#000"/>
<polygon points="99.4,770.35 97,774.77 101.8,774.77" fill="#000"/>
<polygon points="110.4,768.95 108,773.37 112.8,773.37" fill="#000"/>
<polygon points="99.4,765.55 97,769.97 101.8,769.97" fill="#000"/>
<line x1="104.7" y1="756.4" x2="104.7" y2="765.4" stroke="#1a1a1a" stroke-width="1.3"/>
<line x1="101.2" y1="756.4" x2="108.2" y2="756.4" stroke="#1a1a1a" stroke-width="1.3"/>
<line x1="101.2" y1="765.4" x2="108.2" y2="765.4" stroke="#1a1a1a" stroke-width="1.3"/>
<rect x="119.5" y="730.4" width="14.6" height="46.4" fill="#808080"/>
<rect x="119.5" y="712" width="14.6" height="10.8" fill="#808080"/>
<line x1="126.8" y1="709" x2="126.8" y2="716" stroke="#1a1a1a" stroke-width="1.3"/>
<line x1="123.3" y1="709" x2="130.3" y2="709" stroke="#1a1a1a" stroke-width="1.3"/>
<line x1="123.3" y1="716" x2="130.3" y2="716" stroke="#1a1a1a" stroke-width="1.3"/>
<rect x="119.55" y="700.15" width="3.9" height="3.9" fill="#ffffff" stroke="#111" stroke-width="1.2"/>
<rect x="130.75" y="701.15" width="3.9" height="3.9" fill="#ffffff" stroke="#111" stroke-width="1.2"/>
<rect x="119.55" y="712.95" width="3.9" height="3.9" fill="#ffffff" stroke="#111" stroke-width="1.2"/>
<rect x="125.35" y="710.45" width="3.9" height="3.9" fill="#ffffff" stroke="#111" stroke-width="1.2"/>
<rect x="130.75" y="716.25" width="3.9" height="3.9" fill="#ffffff" stroke="#111" stroke-width="1.2"/>
<rect x="125.35" y="730.85" width="3.9" height="3.9" fill="#ffffff" stroke="#111" stroke-width="1.2"/>
<rect x="141.9" y="730.4" width="14.5" height="46.4" fill="#5454f6"/>
<rect x="141.9" y="717.2" width="14.5" height="5.6" fill="#5454f6"/>
<line x1="149.15" y1="711.5" x2="149.15" y2="720" stroke="#1a1a1a" stroke-width="1.3"/>
<line x1="145.65" y1="711.5" x2="152.65" y2="711.5" stroke="#1a1a1a" stroke-width="1.3"/>
<line x1="145.65" y1="720" x2="152.65" y2="720" stroke="#1a1a1a" stroke-width="1.3"/>
<polygon points="149,700.27 146.8,704.32 151.2,704.32" fill="#ffffff" stroke="#111" stroke-width="1.1" stroke-linejoin="round"/>
<polygon points="149,709.57 146.8,713.62 151.2,713.62" fill="#ffffff" stroke="#111" stroke-width="1.1" stroke-linejoin="round"/>
<polygon points="144.2,718.07 142,722.12 146.4,722.12" fill="#ffffff" stroke="#111" stroke-width="1.1" stroke-linejoin="round"/>
<polygon points="154.5,718.07 152.3,722.12 156.7,722.12" fill="#ffffff" stroke="#111" stroke-width="1.1" stroke-linejoin="round"/>
<polygon points="149,731.27 146.8,735.32 151.2,735.32" fill="#ffffff" stroke="#111" stroke-width="1.1" stroke-linejoin="round"/>
<polygon points="149,740.07 146.8,744.12 151.2,744.12" fill="#ffffff" stroke="#111" stroke-width="1.1" stroke-linejoin="round"/>
<line x1="218.4" y1="776.8" x2="218.4" y2="780" stroke="#333" stroke-width="1"/>
<text x="218.4" y="789.2" font-size="7.3" text-anchor="middle" font-weight="bold" fill="#222" stroke="#222" stroke-width="0.12" textLength="16.6" lengthAdjust="spacingAndGlyphs">wk 8</text>
<rect x="178.8" y="766.1" width="13.4" height="10.7" fill="#fff" stroke="#1a1a1a" stroke-width="1"/>
<rect x="183.7" y="758.1" width="4" height="4" fill="#000"/>
<rect x="178.7" y="761.9" width="4" height="4" fill="#000"/>
<rect x="188.9" y="761.9" width="4" height="4" fill="#000"/>
<rect x="183.7" y="765.9" width="4" height="4" fill="#000"/>
<rect x="178.7" y="771.6" width="4" height="4" fill="#000"/>
<rect x="188.9" y="767.1" width="4" height="4" fill="#000"/>
<line x1="185.5" y1="764" x2="185.5" y2="768.5" stroke="#1a1a1a" stroke-width="1.3"/>
<line x1="182" y1="764" x2="189" y2="764" stroke="#1a1a1a" stroke-width="1.3"/>
<line x1="182" y1="768.5" x2="189" y2="768.5" stroke="#1a1a1a" stroke-width="1.3"/>
<rect x="200.6" y="763.1" width="14.5" height="13.7" fill="#58a4f4"/>
<polygon points="208.1,741.35 205.7,745.77 210.5,745.77" fill="#000"/>
<polygon points="202.8,763.15 200.4,767.57 205.2,767.57" fill="#000"/>
<polygon points="208.1,762.75 205.7,767.17 210.5,767.17" fill="#000"/>
<polygon points="213.3,762.75 210.9,767.17 215.7,767.17" fill="#000"/>
<polygon points="202.8,768.65 200.4,773.07 205.2,773.07" fill="#000"/>
<polygon points="213.3,766.45 210.9,770.87 215.7,770.87" fill="#000"/>
<line x1="207.85" y1="759.4" x2="207.85" y2="766.5" stroke="#1a1a1a" stroke-width="1.3"/>
<line x1="204.35" y1="759.4" x2="211.35" y2="759.4" stroke="#1a1a1a" stroke-width="1.3"/>
<line x1="204.35" y1="766.5" x2="211.35" y2="766.5" stroke="#1a1a1a" stroke-width="1.3"/>
<rect x="223" y="730.4" width="14.2" height="46.4" fill="#808080"/>
<rect x="223" y="718.4" width="14.2" height="4.4" fill="#808080"/>
<line x1="230.1" y1="716.5" x2="230.1" y2="720.5" stroke="#1a1a1a" stroke-width="1.3"/>
<line x1="226.6" y1="716.5" x2="233.6" y2="716.5" stroke="#1a1a1a" stroke-width="1.3"/>
<line x1="226.6" y1="720.5" x2="233.6" y2="720.5" stroke="#1a1a1a" stroke-width="1.3"/>
<rect x="222.55" y="714.95" width="3.9" height="3.9" fill="#ffffff" stroke="#111" stroke-width="1.2"/>
<rect x="222.55" y="719.15" width="3.9" height="3.9" fill="#ffffff" stroke="#111" stroke-width="1.2"/>
<rect x="229.25" y="714.15" width="3.9" height="3.9" fill="#ffffff" stroke="#111" stroke-width="1.2"/>
<rect x="229.25" y="718.65" width="3.9" height="3.9" fill="#ffffff" stroke="#111" stroke-width="1.2"/>
<rect x="233.75" y="718.65" width="3.9" height="3.9" fill="#ffffff" stroke="#111" stroke-width="1.2"/>
<rect x="244.9" y="730.4" width="14.7" height="46.4" fill="#5454f6"/>
<rect x="244.9" y="711.2" width="14.7" height="11.6" fill="#5454f6"/>
<line x1="252.25" y1="706.1" x2="252.25" y2="714.5" stroke="#1a1a1a" stroke-width="1.3"/>
<line x1="248.75" y1="706.1" x2="255.75" y2="706.1" stroke="#1a1a1a" stroke-width="1.3"/>
<line x1="248.75" y1="714.5" x2="255.75" y2="714.5" stroke="#1a1a1a" stroke-width="1.3"/>
<polygon points="251.9,683.27 249.7,687.32 254.1,687.32" fill="#ffffff" stroke="#111" stroke-width="1.1" stroke-linejoin="round"/>
<polygon points="251.8,709.17 249.6,713.22 254,713.22" fill="#ffffff" stroke="#111" stroke-width="1.1" stroke-linejoin="round"/>
<polygon points="250.6,712.97 248.4,717.02 252.8,717.02" fill="#ffffff" stroke="#111" stroke-width="1.1" stroke-linejoin="round"/>
<polygon points="246.9,717.47 244.7,721.52 249.1,721.52" fill="#ffffff" stroke="#111" stroke-width="1.1" stroke-linejoin="round"/>
<polygon points="254.3,715.17 252.1,719.22 256.5,719.22" fill="#ffffff" stroke="#111" stroke-width="1.1" stroke-linejoin="round"/>
<polygon points="258.1,714.47 255.9,718.52 260.3,718.52" fill="#ffffff" stroke="#111" stroke-width="1.1" stroke-linejoin="round"/>
<polygon points="252.5,717.07 250.3,721.12 254.7,721.12" fill="#ffffff" stroke="#111" stroke-width="1.1" stroke-linejoin="round"/>
<line x1="321.3" y1="776.8" x2="321.3" y2="780" stroke="#333" stroke-width="1"/>
<text x="321.3" y="789.2" font-size="7.3" text-anchor="middle" font-weight="bold" fill="#222" stroke="#222" stroke-width="0.12" textLength="20.6" lengthAdjust="spacingAndGlyphs">wk 20</text>
<rect x="281.8" y="764" width="13.3" height="12.8" fill="#fff" stroke="#1a1a1a" stroke-width="1"/>
<rect x="281.2" y="758.7" width="4" height="4" fill="#000"/>
<rect x="292.1" y="757.6" width="4" height="4" fill="#000"/>
<rect x="286.4" y="761.3" width="4" height="4" fill="#000"/>
<rect x="289.4" y="762.8" width="4" height="4" fill="#000"/>
<rect x="284.2" y="766.5" width="4" height="4" fill="#000"/>
<rect x="287.9" y="764.7" width="4" height="4" fill="#000"/>
<line x1="288.45" y1="762" x2="288.45" y2="766" stroke="#1a1a1a" stroke-width="1.3"/>
<line x1="284.95" y1="762" x2="291.95" y2="762" stroke="#1a1a1a" stroke-width="1.3"/>
<line x1="284.95" y1="766" x2="291.95" y2="766" stroke="#1a1a1a" stroke-width="1.3"/>
<rect x="303.7" y="754.3" width="14.6" height="22.5" fill="#58a4f4"/>
<polygon points="310.8,736.05 308.4,740.47 313.2,740.47" fill="#000"/>
<polygon points="310.8,747.95 308.4,752.37 313.2,752.37" fill="#000"/>
<polygon points="310.8,753.15 308.4,757.57 313.2,757.57" fill="#000"/>
<polygon points="310.8,756.95 308.4,761.37 313.2,761.37" fill="#000"/>
<polygon points="305.6,759.85 303.2,764.27 308,764.27" fill="#000"/>
<polygon points="316,759.15 313.6,763.57 318.4,763.57" fill="#000"/>
<line x1="311" y1="749.9" x2="311" y2="759.6" stroke="#1a1a1a" stroke-width="1.3"/>
<line x1="307.5" y1="749.9" x2="314.5" y2="749.9" stroke="#1a1a1a" stroke-width="1.3"/>
<line x1="307.5" y1="759.6" x2="314.5" y2="759.6" stroke="#1a1a1a" stroke-width="1.3"/>
<rect x="326" y="730.4" width="14.7" height="46.4" fill="#808080"/>
<rect x="326" y="714.5" width="14.7" height="8.3" fill="#808080"/>
<line x1="333.35" y1="713" x2="333.35" y2="719" stroke="#1a1a1a" stroke-width="1.3"/>
<line x1="329.85" y1="713" x2="336.85" y2="713" stroke="#1a1a1a" stroke-width="1.3"/>
<line x1="329.85" y1="719" x2="336.85" y2="719" stroke="#1a1a1a" stroke-width="1.3"/>
<rect x="330.95" y="702.35" width="3.9" height="3.9" fill="#ffffff" stroke="#111" stroke-width="1.2"/>
<rect x="330.95" y="708.05" width="3.9" height="3.9" fill="#ffffff" stroke="#111" stroke-width="1.2"/>
<rect x="325.25" y="714.35" width="3.9" height="3.9" fill="#ffffff" stroke="#111" stroke-width="1.2"/>
<rect x="336.45" y="715.05" width="3.9" height="3.9" fill="#ffffff" stroke="#111" stroke-width="1.2"/>
<rect x="330.95" y="715.55" width="3.9" height="3.9" fill="#ffffff" stroke="#111" stroke-width="1.2"/>
<rect x="330.95" y="720.25" width="3.9" height="3.9" fill="#ffffff" stroke="#111" stroke-width="1.2"/>
<rect x="348.1" y="730.4" width="14.5" height="46.4" fill="#5454f6"/>
<rect x="348.1" y="703.6" width="14.5" height="19.2" fill="#5454f6"/>
<line x1="355.35" y1="699.5" x2="355.35" y2="708" stroke="#1a1a1a" stroke-width="1.3"/>
<line x1="351.85" y1="699.5" x2="358.85" y2="699.5" stroke="#1a1a1a" stroke-width="1.3"/>
<line x1="351.85" y1="708" x2="358.85" y2="708" stroke="#1a1a1a" stroke-width="1.3"/>
<polygon points="355.3,688.77 353.1,692.82 357.5,692.82" fill="#ffffff" stroke="#111" stroke-width="1.1" stroke-linejoin="round"/>
<polygon points="355.3,697.47 353.1,701.52 357.5,701.52" fill="#ffffff" stroke="#111" stroke-width="1.1" stroke-linejoin="round"/>
<polygon points="349.6,701.17 347.4,705.22 351.8,705.22" fill="#ffffff" stroke="#111" stroke-width="1.1" stroke-linejoin="round"/>
<polygon points="360.4,701.17 358.2,705.22 362.6,705.22" fill="#ffffff" stroke="#111" stroke-width="1.1" stroke-linejoin="round"/>
<polygon points="355.3,703.37 353.1,707.42 357.5,707.42" fill="#ffffff" stroke="#111" stroke-width="1.1" stroke-linejoin="round"/>
<polygon points="355.3,710.87 353.1,714.92 357.5,714.92" fill="#ffffff" stroke="#111" stroke-width="1.1" stroke-linejoin="round"/>
<line x1="88.1" y1="695.9" x2="120.8" y2="695.9" stroke="#1e8a1e" stroke-width="1.5"/>
<polygon points="83.1,695.9 90.3,692.6 90.3,699.2" fill="#1e8a1e"/>
<polygon points="125.8,695.9 118.6,692.6 118.6,699.2" fill="#1e8a1e"/>
<circle cx="102.55" cy="690.5" r="1.05" fill="#1e8a1e"/>
<circle cx="106.35" cy="690.5" r="1.05" fill="#1e8a1e"/>
<line x1="110.4" y1="684.3" x2="143.1" y2="684.3" stroke="#1e8a1e" stroke-width="1.5"/>
<polygon points="105.4,684.3 112.6,681 112.6,687.6" fill="#1e8a1e"/>
<polygon points="148.1,684.3 140.9,681 140.9,687.6" fill="#1e8a1e"/>
<circle cx="126.75" cy="678.8" r="1.05" fill="#1e8a1e"/>
<line x1="190.9" y1="709.7" x2="224.1" y2="709.7" stroke="#1e8a1e" stroke-width="1.5"/>
<polygon points="185.9,709.7 193.1,706.4 193.1,713" fill="#1e8a1e"/>
<polygon points="229.1,709.7 221.9,706.4 221.9,713" fill="#1e8a1e"/>
<circle cx="201.8" cy="704.6" r="1.05" fill="#1e8a1e"/>
<circle cx="205.6" cy="704.6" r="1.05" fill="#1e8a1e"/>
<circle cx="209.4" cy="704.6" r="1.05" fill="#1e8a1e"/>
<circle cx="213.2" cy="704.6" r="1.05" fill="#1e8a1e"/>
<line x1="213.4" y1="681.2" x2="246.6" y2="681.2" stroke="#1e8a1e" stroke-width="1.5"/>
<polygon points="208.4,681.2 215.6,677.9 215.6,684.5" fill="#1e8a1e"/>
<polygon points="251.6,681.2 244.4,677.9 244.4,684.5" fill="#1e8a1e"/>
<circle cx="230" cy="675.4" r="1.05" fill="#1e8a1e"/>
<line x1="294.2" y1="697.6" x2="327.5" y2="697.6" stroke="#1e8a1e" stroke-width="1.5"/>
<polygon points="289.2,697.6 296.4,694.3 296.4,700.9" fill="#1e8a1e"/>
<polygon points="332.5,697.6 325.3,694.3 325.3,700.9" fill="#1e8a1e"/>
<circle cx="308.95" cy="692.4" r="1.05" fill="#1e8a1e"/>
<circle cx="312.75" cy="692.4" r="1.05" fill="#1e8a1e"/>
<line x1="316.6" y1="676.7" x2="349.4" y2="676.7" stroke="#1e8a1e" stroke-width="1.5"/>
<polygon points="311.6,676.7 318.8,673.4 318.8,680" fill="#1e8a1e"/>
<polygon points="354.4,676.7 347.2,673.4 347.2,680" fill="#1e8a1e"/>
<circle cx="327.3" cy="671.5" r="1.05" fill="#1e8a1e"/>
<circle cx="331.1" cy="671.5" r="1.05" fill="#1e8a1e"/>
<circle cx="334.9" cy="671.5" r="1.05" fill="#1e8a1e"/>
<circle cx="338.7" cy="671.5" r="1.05" fill="#1e8a1e"/>
<line x1="288.4" y1="733.4" x2="311.1" y2="733.4" stroke="#ff2a2a" stroke-width="1.2"/>
<circle cx="300.1" cy="727.5" r="1.15" fill="#ff2a2a"/>
<line x1="332.5" y1="686.4" x2="354.4" y2="686.4" stroke="#ff2a2a" stroke-width="1.2"/>
<circle cx="343.4" cy="680.7" r="1.15" fill="#ff2a2a"/>
<line x1="148.8" y1="657.2" x2="355.3" y2="657.2" stroke="#4a4af0" stroke-width="1.2"/>
<line x1="148.8" y1="653.1" x2="148.8" y2="661.6" stroke="#4a4af0" stroke-width="1.1"/>
<line x1="355.3" y1="653.1" x2="355.3" y2="661.6" stroke="#4a4af0" stroke-width="1.1"/>
<circle cx="250.1" cy="651.3" r="1.1" fill="#4a4af0"/>
<circle cx="253.9" cy="651.3" r="1.1" fill="#4a4af0"/>
<line x1="207.3" y1="668.2" x2="309.3" y2="668.2" stroke="#58a2ee" stroke-width="1.2"/>
<line x1="207.3" y1="663.9" x2="207.3" y2="672.6" stroke="#58a2ee" stroke-width="1.1"/>
<line x1="309.3" y1="663.9" x2="309.3" y2="672.6" stroke="#58a2ee" stroke-width="1.1"/>
<circle cx="258.5" cy="662.4" r="1.1" fill="#58a2ee"/>
<rect x="374" y="702.4" width="4.2" height="4.2" fill="#000"/>
<polygon points="376.1,715.55 373.7,719.97 378.5,719.97" fill="#000"/>
<rect x="374.2" y="730.6" width="3.8" height="3.8" fill="#fff" stroke="#111" stroke-width="1.2"/>
<polygon points="376.1,743.87 373.9,747.92 378.3,747.92" fill="#fff" stroke="#111" stroke-width="1.1" stroke-linejoin="round"/>
<text x="387.5" y="707.3" font-size="8.2" fill="#1a1a1a" stroke="#1a1a1a" stroke-width="0.16" textLength="69.2" lengthAdjust="spacingAndGlyphs">Unadjuvanted CD4</text>
<text x="387.5" y="720.7" font-size="8.2" fill="#58a2ee" stroke="#58a2ee" stroke-width="0.16" textLength="79.1" lengthAdjust="spacingAndGlyphs">IL-4R antagonist CD4</text>
<text x="387.5" y="735.3" font-size="8.2" fill="#8c8c8c" stroke="#8c8c8c" stroke-width="0.16" textLength="69.2" lengthAdjust="spacingAndGlyphs">Unadjuvanted CD8</text>
<text x="387.5" y="748.8" font-size="8.2" fill="#4a4af0" stroke="#4a4af0" stroke-width="0.16" textLength="79.1" lengthAdjust="spacingAndGlyphs">IL-4R antagonist CD8</text>
</svg>
</body></html>
